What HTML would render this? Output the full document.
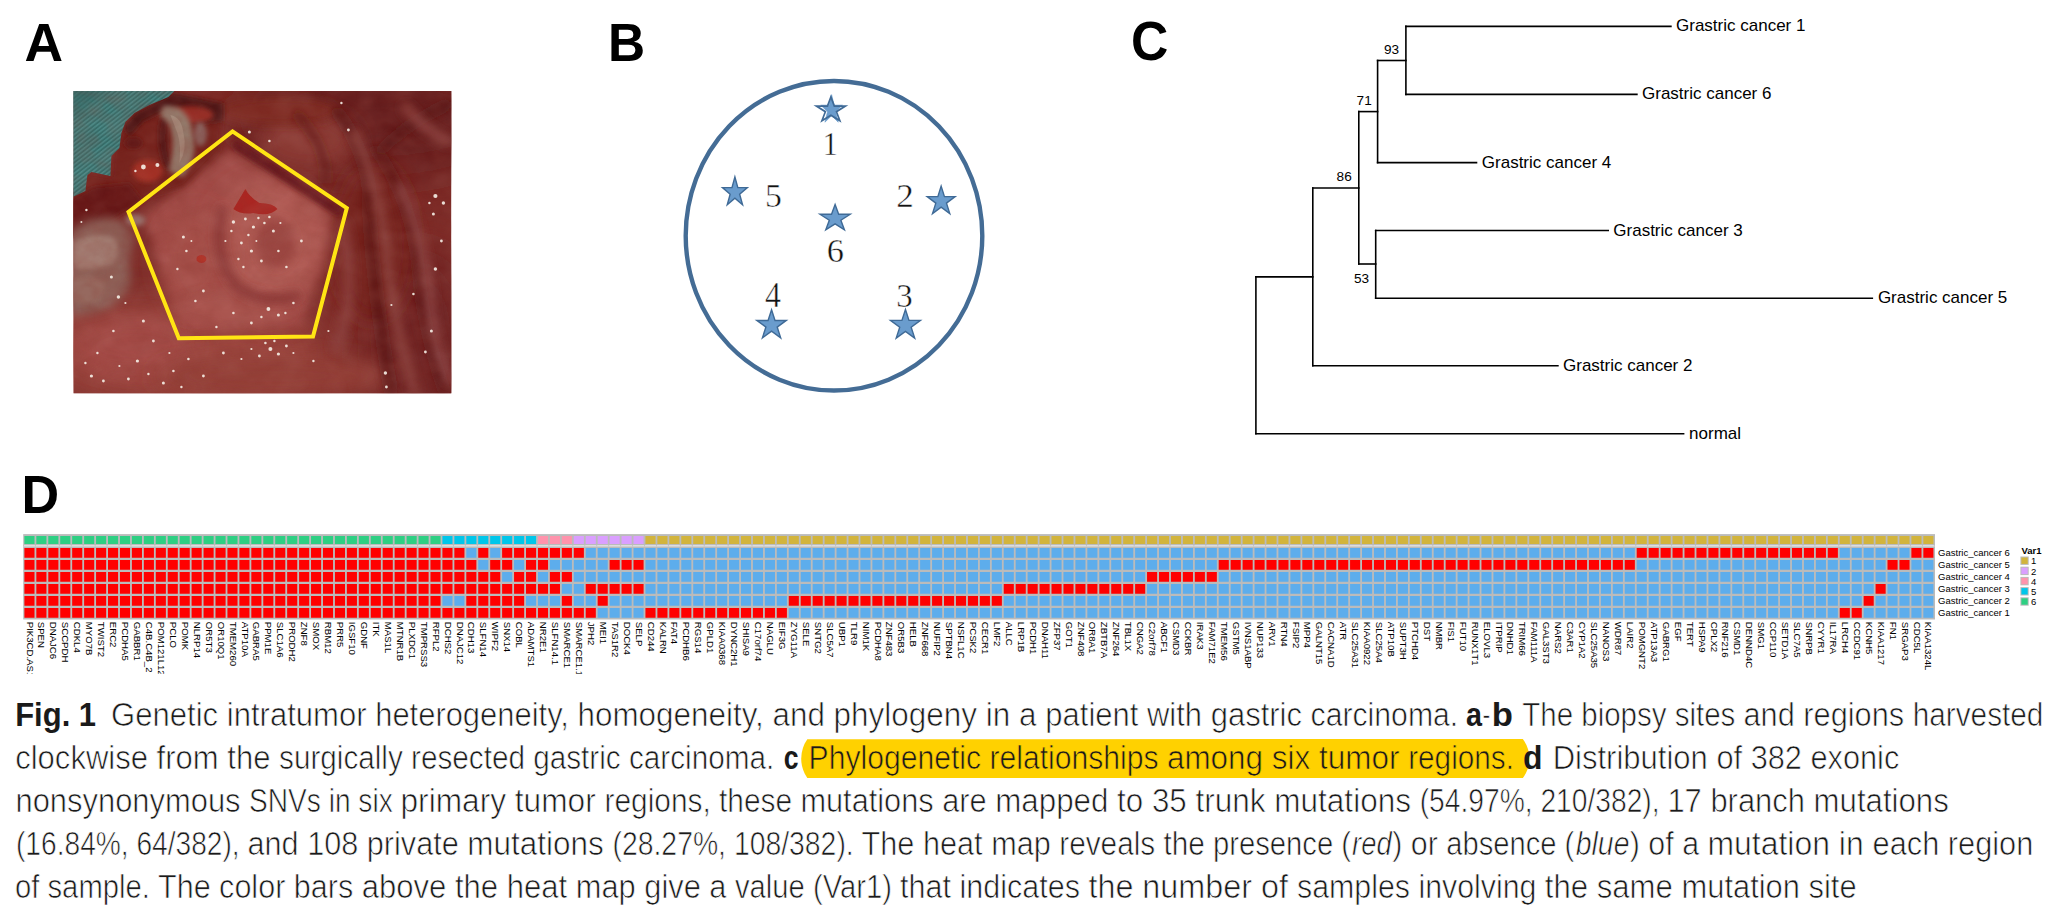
<!DOCTYPE html>
<html><head><meta charset="utf-8"><title>Fig. 1</title>
<style>html,body{margin:0;padding:0;background:#fff}body{width:2058px;height:914px;overflow:hidden}svg{display:block}text{font-family:"Liberation Sans", sans-serif}</style>
</head><body>
<svg width="2058" height="914" viewBox="0 0 2058 914">
<rect width="2058" height="914" fill="#fff"/>
<text x="24.54" y="60.90" font-size="54.51" font-weight="700" textLength="38.56" lengthAdjust="spacingAndGlyphs" fill="#000" style="font-family:'Liberation Sans', sans-serif">A</text>
<text x="607.98" y="60.90" font-size="54.51" font-weight="700" textLength="37.14" lengthAdjust="spacingAndGlyphs" fill="#000" style="font-family:'Liberation Sans', sans-serif">B</text>
<text x="1131.08" y="60.14" font-size="56.21" font-weight="700" textLength="37.32" lengthAdjust="spacingAndGlyphs" fill="#000" style="font-family:'Liberation Sans', sans-serif">C</text>
<text x="21.43" y="512.70" font-size="54.36" font-weight="700" textLength="37.64" lengthAdjust="spacingAndGlyphs" fill="#000" style="font-family:'Liberation Sans', sans-serif">D</text>
<defs>
<clipPath id="pc"><rect x="0" y="0" width="378" height="302.3"/></clipPath>
<filter id="b30" filterUnits="userSpaceOnUse" x="-60" y="-60" width="500" height="430"><feGaussianBlur stdDeviation="20"/></filter>
<filter id="b14" filterUnits="userSpaceOnUse" x="-60" y="-60" width="500" height="430"><feGaussianBlur stdDeviation="10"/></filter>
<filter id="b7" filterUnits="userSpaceOnUse" x="-60" y="-60" width="500" height="430"><feGaussianBlur stdDeviation="5"/></filter>
<filter id="b3" filterUnits="userSpaceOnUse" x="-60" y="-60" width="500" height="430"><feGaussianBlur stdDeviation="2.4"/></filter>
<filter id="b1" filterUnits="userSpaceOnUse" x="-60" y="-60" width="500" height="430"><feGaussianBlur stdDeviation="0.7"/></filter>
<filter id="tx" x="0" y="0" width="100%" height="100%">
<feTurbulence type="fractalNoise" baseFrequency="0.05 0.07" numOctaves="3" seed="7" result="n"/>
<feColorMatrix in="n" type="matrix" values="0 0 0 0 0.25  0 0 0 0 0.04  0 0 0 0 0.03  0.75 0.3 0 0 -0.36"/>
</filter>
<filter id="tx2" x="0" y="0" width="100%" height="100%">
<feTurbulence type="fractalNoise" baseFrequency="0.035 0.05" numOctaves="2" seed="23" result="n"/>
<feColorMatrix in="n" type="matrix" values="0 0 0 0 0.78  0 0 0 0 0.5  0 0 0 0 0.46  0 0.7 0.25 0 -0.36"/>
</filter>
<pattern id="tw" width="3.4" height="3.4" patternUnits="userSpaceOnUse" patternTransform="rotate(-38)">
<rect width="3.4" height="3.4" fill="#366E6B"/><rect width="3.4" height="1.5" fill="#4A8986"/>
</pattern>
</defs>
<g transform="translate(73.4 91)" clip-path="url(#pc)">
<rect width="378" height="303" fill="#7C2B27"/>
<!-- broad tonal areas -->
<ellipse cx="300" cy="30" rx="140" ry="55" fill="#651F1C" filter="url(#b30)"/>
<ellipse cx="345" cy="250" rx="55" ry="90" fill="#6E2320" filter="url(#b30)"/>
<ellipse cx="300" cy="150" rx="40" ry="80" fill="#74231F" filter="url(#b14)"/>
<ellipse cx="235" cy="50" rx="50" ry="30" fill="#8C3A35" filter="url(#b14)"/>
<ellipse cx="205" cy="20" rx="60" ry="14" fill="#7E2A20" filter="url(#b7)"/>
<ellipse cx="105" cy="262" rx="150" ry="52" fill="#9E4641" filter="url(#b30)"/>
<ellipse cx="60" cy="255" rx="60" ry="30" fill="#A44C46" filter="url(#b14)"/>
<ellipse cx="200" cy="285" rx="120" ry="22" fill="#944039" filter="url(#b14)"/>
<!-- folds on the right -->
<path d="M262 18 Q300 70 296 120 Q300 200 318 303" fill="none" stroke="#561614" stroke-width="8" filter="url(#b7)"/>
<path d="M300 55 Q340 110 345 180 Q350 240 372 303" fill="none" stroke="#5A1815" stroke-width="7" filter="url(#b7)"/>
<path d="M222 22 Q255 55 252 92" fill="none" stroke="#5E1A17" stroke-width="6" filter="url(#b7)"/>
<path d="M305 62 Q335 30 378 12" fill="none" stroke="#561513" stroke-width="7" filter="url(#b7)"/>
<path d="M280 40 Q306 95 313 160 Q319 230 342 303" fill="none" stroke="#8E4541" stroke-width="9" filter="url(#b7)"/>
<path d="M325 92 Q353 150 357 215 Q361 260 378 292" fill="none" stroke="#90484A" stroke-width="8" filter="url(#b7)"/>
<path d="M330 14 Q350 40 378 52" fill="none" stroke="#8A403C" stroke-width="10" filter="url(#b7)"/>
<path d="M268 130 Q285 200 262 260" fill="none" stroke="#8A3E3A" stroke-width="12" filter="url(#b7)"/>
<!-- tumour (mound) -->
<path d="M158 58 L258 124 L228 236 L114 238 L70 126Z" fill="#A24C47" filter="url(#b7)"/>
<ellipse cx="195" cy="150" rx="58" ry="62" fill="#B15B55" filter="url(#b14)"/>
<ellipse cx="120" cy="170" rx="34" ry="52" fill="#A64F4A" filter="url(#b14)"/>
<ellipse cx="160" cy="218" rx="60" ry="18" fill="#A9524D" filter="url(#b7)"/>
<path d="M160 52 L268 122" fill="none" stroke="#65191A" stroke-width="9" filter="url(#b3)"/>
<path d="M150 115 Q138 160 160 192 Q186 216 226 204" fill="none" stroke="#873634" stroke-width="8" filter="url(#b7)"/>
<ellipse cx="202" cy="152" rx="20" ry="24" fill="#9C4643" filter="url(#b7)"/>
<path d="M172 98 Q176 106 186 112 Q200 112 204 118 Q196 126 180 122 Q168 124 160 118 Q166 108 172 98Z" fill="#AC2620" filter="url(#b1)"/>
<ellipse cx="128" cy="168" rx="5" ry="4" fill="#B03028" filter="url(#b1)"/>
<!-- upper-left raw red tissue -->
<path d="M62 22 L100 4 L150 14 L146 60 L110 96 L60 110 L30 120 L-5 150 L-5 104 L14 82 L38 86 L40 62 L50 36Z" fill="#74201A" filter="url(#b3)"/>
<path d="M100 2 L150 12 L150 30 L122 34 L90 20 L70 30 L56 46 L50 36 L62 22Z" fill="#4E1412" filter="url(#b3)"/>
<path d="M88 24 Q80 50 92 78 L100 80 Q90 52 96 28Z" fill="#551513" filter="url(#b3)"/>
<path d="M-5 110 L20 96 L56 92 L70 110 L40 128 L-5 150Z" fill="#651612" filter="url(#b3)"/>
<ellipse cx="74" cy="80" rx="15" ry="11" fill="#A62E22" filter="url(#b3)"/>
<ellipse cx="60" cy="52" rx="9" ry="6" fill="#5E1712" filter="url(#b3)"/>
<ellipse cx="118" cy="24" rx="22" ry="9" fill="#962C22" filter="url(#b3)"/>
<!-- fat / pale tissue -->
<path d="M90 15 Q114 12 119 40 Q125 64 110 86 L95 80 Q102 56 98 40 Q94 28 86 25Z" fill="#93796A" filter="url(#b3)"/>
<path d="M97 24 Q108 26 110 42 Q114 58 106 72 Q108 54 104 42Z" fill="#A58C7C" filter="url(#b1)"/>
<ellipse cx="127" cy="43" rx="6.5" ry="12" fill="#8A635E" filter="url(#b3)"/>
<path d="M-5 142 Q14 124 40 127 Q58 134 60 151 Q52 170 58 190 Q50 212 30 219 Q10 226 -5 223Z" fill="#8C5F57" filter="url(#b7)"/>
<path d="M0 152 Q20 139 42 147 Q48 160 40 172 Q20 181 0 177Z" fill="#A17A70" filter="url(#b3)"/>
<path d="M-2 187 Q14 181 30 190 Q34 204 22 211 Q8 215 -2 209Z" fill="#96695F" filter="url(#b3)"/>
<ellipse cx="62" cy="129" rx="10" ry="6" fill="#94706A" filter="url(#b3)"/>
<!-- teal cloth -->
<path d="M-5 -5 L106 -5 L95 6 L76 14 L61 22 L52 31 L48 42 L46 57 L38 65 L37 85 L18 81 L14 84 L12 100 L-5 108 Z" fill="url(#tw)" filter="url(#b1)"/>
<path d="M-5 -5 L40 -5 L-5 30Z" fill="#2F6663" opacity="0.6" filter="url(#b7)"/>
<!-- mottled texture -->
<rect width="378" height="303" filter="url(#tx)" opacity="0.55"/>
<rect width="378" height="303" filter="url(#tx2)" opacity="0.18"/>
<!-- specular glints -->
<g fill="#F6F1E8" filter="url(#b1)" opacity="0.9">
<circle cx="70" cy="76" r="2.4"/><circle cx="84" cy="74" r="2.0"/><circle cx="62" cy="80" r="1.2"/><circle cx="13" cy="119" r="1.2"/><circle cx="8" cy="131" r="1.0"/>
<circle cx="110" cy="146" r="1.5"/><circle cx="113" cy="160" r="1.3"/><circle cx="104" cy="178" r="1.2"/><circle cx="118" cy="150" r="1.0"/>
<circle cx="160" cy="131" r="1.7"/><circle cx="172" cy="128" r="1.4"/><circle cx="180" cy="136" r="1.6"/><circle cx="191" cy="132" r="1.3"/><circle cx="185" cy="127" r="1.2"/>
<circle cx="200" cy="140" r="1.5"/><circle cx="168" cy="152" r="1.4"/><circle cx="178" cy="160" r="1.6"/><circle cx="165" cy="168" r="1.2"/><circle cx="196" cy="126" r="1.3"/>
<circle cx="188" cy="170" r="1.4"/><circle cx="205" cy="160" r="1.3"/><circle cx="213" cy="176" r="1.3"/><circle cx="228" cy="150" r="1.4"/><circle cx="175" cy="144" r="1.2"/>
<circle cx="158" cy="140" r="1.2"/><circle cx="152" cy="150" r="1.1"/><circle cx="170" cy="176" r="1.2"/><circle cx="183" cy="150" r="1.0"/><circle cx="207" cy="132" r="1.1"/>
<circle cx="195" cy="218" r="1.9"/><circle cx="205" cy="224" r="1.5"/><circle cx="220" cy="212" r="1.3"/><circle cx="178" cy="232" r="1.4"/><circle cx="188" cy="226" r="1.2"/>
<circle cx="160" cy="222" r="1.3"/><circle cx="130" cy="200" r="1.4"/><circle cx="122" cy="210" r="1.3"/><circle cx="143" cy="236" r="1.2"/><circle cx="212" cy="222" r="1.2"/>
<circle cx="197" cy="258" r="2.0"/><circle cx="205" cy="263" r="1.6"/><circle cx="186" cy="265" r="1.4"/><circle cx="213" cy="255" r="1.4"/><circle cx="150" cy="262" r="1.4"/>
<circle cx="192" cy="252" r="1.3"/><circle cx="201" cy="250" r="1.2"/><circle cx="178" cy="258" r="1.1"/><circle cx="220" cy="262" r="1.1"/><circle cx="168" cy="268" r="1.1"/>
<circle cx="45" cy="206" r="1.7"/><circle cx="38" cy="186" r="1.5"/><circle cx="70" cy="230" r="1.5"/><circle cx="64" cy="270" r="1.6"/><circle cx="52" cy="212" r="1.1"/>
<circle cx="18" cy="285" r="1.6"/><circle cx="30" cy="290" r="1.4"/><circle cx="55" cy="288" r="1.4"/><circle cx="90" cy="292" r="1.5"/><circle cx="100" cy="280" r="1.3"/>
<circle cx="115" cy="268" r="1.3"/><circle cx="80" cy="250" r="1.4"/><circle cx="40" cy="240" r="1.3"/><circle cx="130" cy="285" r="1.4"/><circle cx="24" cy="262" r="1.2"/>
<circle cx="12" cy="272" r="1.2"/><circle cx="46" cy="275" r="1.1"/><circle cx="75" cy="283" r="1.2"/><circle cx="108" cy="296" r="1.2"/><circle cx="96" cy="262" r="1.1"/>
<circle cx="362" cy="105" r="2.1"/><circle cx="370" cy="112" r="1.7"/><circle cx="360" cy="123" r="1.5"/><circle cx="368" cy="150" r="1.4"/><circle cx="356" cy="112" r="1.2"/>
<circle cx="176" cy="41" r="1.5"/><circle cx="275" cy="39" r="1.4"/><circle cx="196" cy="50" r="1.3"/><circle cx="268" cy="12" r="1.2"/>
<circle cx="362" cy="178" r="1.7"/><circle cx="358" cy="240" r="1.5"/><circle cx="340" cy="203" r="1.3"/><circle cx="312" cy="282" r="1.7"/><circle cx="313" cy="296" r="1.4"/>
<circle cx="352" cy="261" r="1.4"/><circle cx="318" cy="214" r="1.1"/><circle cx="240" cy="270" r="1.2"/><circle cx="255" cy="240" r="1.1"/>
</g>
<!-- pentagon -->
<polygon points="159.1,40.4 273.4,117.1 239.6,245.6 105.4,247.2 55.1,121.0" fill="none" stroke="#FFE514" stroke-width="4.0" stroke-linejoin="miter"/>
</g>

<g id="panelB">
<ellipse cx="834.0" cy="235.75" rx="148.3" ry="154.8" fill="none" stroke="#446C95" stroke-width="4.4"/>
<polygon points="831.60,94.60 834.15,105.14 842.40,105.14 835.73,111.66 838.28,122.20 831.60,115.69 824.92,122.20 827.47,111.66 820.80,105.14 829.05,105.14" fill="#6A9CCD" stroke="#6A9CCD" stroke-width="0.6" stroke-linejoin="miter"/>
<polygon points="830.90,97.00 834.32,106.09 845.40,106.09 836.44,111.71 839.86,120.80 830.90,115.18 821.94,120.80 825.36,111.71 816.40,106.09 827.48,106.09" fill="none" stroke="#3F6A96" stroke-width="1.7" stroke-linejoin="miter"/>
<polygon points="734.90,177.00 737.83,187.62 747.30,187.62 739.64,194.18 742.56,204.80 734.90,198.24 727.24,204.80 730.16,194.18 722.50,187.62 731.97,187.62" fill="#6A9CCD" stroke="#3F6A96" stroke-width="1.4" stroke-linejoin="miter"/>
<polygon points="941.15,186.10 944.44,196.60 955.10,196.60 946.48,203.10 949.77,213.60 941.15,207.11 932.53,213.60 935.82,203.10 927.20,196.60 937.86,196.60" fill="#6A9CCD" stroke="#3F6A96" stroke-width="1.4" stroke-linejoin="miter"/>
<polygon points="835.10,204.60 838.67,214.26 850.20,214.26 840.87,220.24 844.43,229.90 835.10,223.93 825.77,229.90 829.33,220.24 820.00,214.26 831.53,214.26" fill="#6A9CCD" stroke="#3F6A96" stroke-width="1.4" stroke-linejoin="miter"/>
<polygon points="771.55,309.70 775.03,320.43 786.30,320.43 777.18,327.07 780.67,337.80 771.55,331.17 762.43,337.80 765.92,327.07 756.80,320.43 768.07,320.43" fill="#6A9CCD" stroke="#3F6A96" stroke-width="1.4" stroke-linejoin="miter"/>
<polygon points="905.45,309.50 908.98,320.42 920.40,320.42 911.16,327.18 914.69,338.10 905.45,331.35 896.21,338.10 899.74,327.18 890.50,320.42 901.92,320.42" fill="#6A9CCD" stroke="#3F6A96" stroke-width="1.4" stroke-linejoin="miter"/>
<text x="822.67" y="155.00" font-size="34.24" font-weight="400" textLength="15.04" lengthAdjust="spacingAndGlyphs" fill="#111" stroke="#fff" stroke-width="0.45" style="font-family:'Liberation Serif', serif">1</text>
<text x="764.94" y="206.96" font-size="33.53" font-weight="400" textLength="16.87" lengthAdjust="spacingAndGlyphs" fill="#111" stroke="#fff" stroke-width="0.45" style="font-family:'Liberation Serif', serif">5</text>
<text x="896.17" y="207.10" font-size="33.99" font-weight="400" textLength="17.56" lengthAdjust="spacingAndGlyphs" fill="#111" stroke="#fff" stroke-width="0.45" style="font-family:'Liberation Serif', serif">2</text>
<text x="826.64" y="261.65" font-size="34.67" font-weight="400" textLength="17.17" lengthAdjust="spacingAndGlyphs" fill="#111" stroke="#fff" stroke-width="0.45" style="font-family:'Liberation Serif', serif">6</text>
<text x="764.88" y="307.10" font-size="34.95" font-weight="400" textLength="15.91" lengthAdjust="spacingAndGlyphs" fill="#111" stroke="#fff" stroke-width="0.45" style="font-family:'Liberation Serif', serif">4</text>
<text x="896.34" y="306.66" font-size="34.08" font-weight="400" textLength="16.44" lengthAdjust="spacingAndGlyphs" fill="#111" stroke="#fff" stroke-width="0.45" style="font-family:'Liberation Serif', serif">3</text>
</g>
<g id="panelC" fill="none" stroke="#000" stroke-width="1.6" stroke-linecap="square">
<line x1="1255.9" y1="276.9" x2="1255.9" y2="433.7"/>
<line x1="1255.9" y1="433.7" x2="1683.6" y2="433.7"/>
<line x1="1255.9" y1="276.9" x2="1312.8" y2="276.9"/>
<line x1="1312.8" y1="188.0" x2="1312.8" y2="365.7"/>
<line x1="1312.8" y1="365.7" x2="1557.9" y2="365.7"/>
<line x1="1312.8" y1="188.0" x2="1358.8" y2="188.0"/>
<line x1="1358.8" y1="111.6" x2="1358.8" y2="264.0"/>
<line x1="1358.8" y1="264.0" x2="1375.7" y2="264.0"/>
<line x1="1375.7" y1="230.5" x2="1375.7" y2="298.2"/>
<line x1="1375.7" y1="230.5" x2="1608.2" y2="230.5"/>
<line x1="1375.7" y1="298.2" x2="1872.3" y2="298.2"/>
<line x1="1358.8" y1="111.6" x2="1377.6" y2="111.6"/>
<line x1="1377.6" y1="60.5" x2="1377.6" y2="162.6"/>
<line x1="1377.6" y1="162.6" x2="1476.5" y2="162.6"/>
<line x1="1377.6" y1="60.5" x2="1405.9" y2="60.5"/>
<line x1="1405.9" y1="26.4" x2="1405.9" y2="94.4"/>
<line x1="1405.9" y1="26.4" x2="1670.9" y2="26.4"/>
<line x1="1405.9" y1="94.4" x2="1636.9" y2="94.4"/>
</g>
<g font-size="17.0" fill="#000">
<text x="1676.0" y="31.4">Grastric cancer 1</text>
<text x="1642.0" y="99.4">Grastric cancer 6</text>
<text x="1481.8" y="167.5">Grastric cancer 4</text>
<text x="1613.3" y="235.5">Grastric cancer 3</text>
<text x="1877.9" y="303.2">Grastric cancer 5</text>
<text x="1563.0" y="370.7">Grastric cancer 2</text>
<text x="1689.1" y="438.7">normal</text>
</g>
<g font-size="13.6" fill="#000">
<text x="1384.0" y="53.6">93</text>
<text x="1356.6" y="104.6">71</text>
<text x="1336.6" y="181.0">86</text>
<text x="1353.9" y="283.3">53</text>
</g>
<g id="heat">
<rect x="23.2" y="534.1" width="1911.8" height="10.9" fill="#BBBBBB"/>
<rect x="23.2" y="545.0" width="1911.8" height="1.5" fill="#DDDDDD"/>
<rect x="23.2" y="546.4" width="1911.8" height="73.1" fill="#BBBBBB"/>
<path d="M23.03 545.0h0.9v1.5h-0.9zM34.97 545.0h0.9v1.5h-0.9zM46.92 545.0h0.9v1.5h-0.9zM58.86 545.0h0.9v1.5h-0.9zM70.80 545.0h0.9v1.5h-0.9zM82.74 545.0h0.9v1.5h-0.9zM94.69 545.0h0.9v1.5h-0.9zM106.63 545.0h0.9v1.5h-0.9zM118.57 545.0h0.9v1.5h-0.9zM130.52 545.0h0.9v1.5h-0.9zM142.46 545.0h0.9v1.5h-0.9zM154.40 545.0h0.9v1.5h-0.9zM166.35 545.0h0.9v1.5h-0.9zM178.29 545.0h0.9v1.5h-0.9zM190.23 545.0h0.9v1.5h-0.9zM202.17 545.0h0.9v1.5h-0.9zM214.12 545.0h0.9v1.5h-0.9zM226.06 545.0h0.9v1.5h-0.9zM238.00 545.0h0.9v1.5h-0.9zM249.95 545.0h0.9v1.5h-0.9zM261.89 545.0h0.9v1.5h-0.9zM273.83 545.0h0.9v1.5h-0.9zM285.78 545.0h0.9v1.5h-0.9zM297.72 545.0h0.9v1.5h-0.9zM309.66 545.0h0.9v1.5h-0.9zM321.60 545.0h0.9v1.5h-0.9zM333.55 545.0h0.9v1.5h-0.9zM345.49 545.0h0.9v1.5h-0.9zM357.43 545.0h0.9v1.5h-0.9zM369.38 545.0h0.9v1.5h-0.9zM381.32 545.0h0.9v1.5h-0.9zM393.26 545.0h0.9v1.5h-0.9zM405.21 545.0h0.9v1.5h-0.9zM417.15 545.0h0.9v1.5h-0.9zM429.09 545.0h0.9v1.5h-0.9zM441.03 545.0h0.9v1.5h-0.9zM452.98 545.0h0.9v1.5h-0.9zM464.92 545.0h0.9v1.5h-0.9zM476.86 545.0h0.9v1.5h-0.9zM488.81 545.0h0.9v1.5h-0.9zM500.75 545.0h0.9v1.5h-0.9zM512.69 545.0h0.9v1.5h-0.9zM524.64 545.0h0.9v1.5h-0.9zM536.58 545.0h0.9v1.5h-0.9zM548.52 545.0h0.9v1.5h-0.9zM560.46 545.0h0.9v1.5h-0.9zM572.41 545.0h0.9v1.5h-0.9zM584.35 545.0h0.9v1.5h-0.9zM596.29 545.0h0.9v1.5h-0.9zM608.24 545.0h0.9v1.5h-0.9zM620.18 545.0h0.9v1.5h-0.9zM632.12 545.0h0.9v1.5h-0.9zM644.07 545.0h0.9v1.5h-0.9zM656.01 545.0h0.9v1.5h-0.9zM667.95 545.0h0.9v1.5h-0.9zM679.89 545.0h0.9v1.5h-0.9zM691.84 545.0h0.9v1.5h-0.9zM703.78 545.0h0.9v1.5h-0.9zM715.72 545.0h0.9v1.5h-0.9zM727.67 545.0h0.9v1.5h-0.9zM739.61 545.0h0.9v1.5h-0.9zM751.55 545.0h0.9v1.5h-0.9zM763.50 545.0h0.9v1.5h-0.9zM775.44 545.0h0.9v1.5h-0.9zM787.38 545.0h0.9v1.5h-0.9zM799.32 545.0h0.9v1.5h-0.9zM811.27 545.0h0.9v1.5h-0.9zM823.21 545.0h0.9v1.5h-0.9zM835.15 545.0h0.9v1.5h-0.9zM847.10 545.0h0.9v1.5h-0.9zM859.04 545.0h0.9v1.5h-0.9zM870.98 545.0h0.9v1.5h-0.9zM882.93 545.0h0.9v1.5h-0.9zM894.87 545.0h0.9v1.5h-0.9zM906.81 545.0h0.9v1.5h-0.9zM918.75 545.0h0.9v1.5h-0.9zM930.70 545.0h0.9v1.5h-0.9zM942.64 545.0h0.9v1.5h-0.9zM954.58 545.0h0.9v1.5h-0.9zM966.53 545.0h0.9v1.5h-0.9zM978.47 545.0h0.9v1.5h-0.9zM990.41 545.0h0.9v1.5h-0.9zM1002.36 545.0h0.9v1.5h-0.9zM1014.30 545.0h0.9v1.5h-0.9zM1026.24 545.0h0.9v1.5h-0.9zM1038.19 545.0h0.9v1.5h-0.9zM1050.13 545.0h0.9v1.5h-0.9zM1062.07 545.0h0.9v1.5h-0.9zM1074.01 545.0h0.9v1.5h-0.9zM1085.96 545.0h0.9v1.5h-0.9zM1097.90 545.0h0.9v1.5h-0.9zM1109.84 545.0h0.9v1.5h-0.9zM1121.79 545.0h0.9v1.5h-0.9zM1133.73 545.0h0.9v1.5h-0.9zM1145.67 545.0h0.9v1.5h-0.9zM1157.62 545.0h0.9v1.5h-0.9zM1169.56 545.0h0.9v1.5h-0.9zM1181.50 545.0h0.9v1.5h-0.9zM1193.44 545.0h0.9v1.5h-0.9zM1205.39 545.0h0.9v1.5h-0.9zM1217.33 545.0h0.9v1.5h-0.9zM1229.27 545.0h0.9v1.5h-0.9zM1241.22 545.0h0.9v1.5h-0.9zM1253.16 545.0h0.9v1.5h-0.9zM1265.10 545.0h0.9v1.5h-0.9zM1277.05 545.0h0.9v1.5h-0.9zM1288.99 545.0h0.9v1.5h-0.9zM1300.93 545.0h0.9v1.5h-0.9zM1312.87 545.0h0.9v1.5h-0.9zM1324.82 545.0h0.9v1.5h-0.9zM1336.76 545.0h0.9v1.5h-0.9zM1348.70 545.0h0.9v1.5h-0.9zM1360.65 545.0h0.9v1.5h-0.9zM1372.59 545.0h0.9v1.5h-0.9zM1384.53 545.0h0.9v1.5h-0.9zM1396.48 545.0h0.9v1.5h-0.9zM1408.42 545.0h0.9v1.5h-0.9zM1420.36 545.0h0.9v1.5h-0.9zM1432.30 545.0h0.9v1.5h-0.9zM1444.25 545.0h0.9v1.5h-0.9zM1456.19 545.0h0.9v1.5h-0.9zM1468.13 545.0h0.9v1.5h-0.9zM1480.08 545.0h0.9v1.5h-0.9zM1492.02 545.0h0.9v1.5h-0.9zM1503.96 545.0h0.9v1.5h-0.9zM1515.91 545.0h0.9v1.5h-0.9zM1527.85 545.0h0.9v1.5h-0.9zM1539.79 545.0h0.9v1.5h-0.9zM1551.73 545.0h0.9v1.5h-0.9zM1563.68 545.0h0.9v1.5h-0.9zM1575.62 545.0h0.9v1.5h-0.9zM1587.56 545.0h0.9v1.5h-0.9zM1599.51 545.0h0.9v1.5h-0.9zM1611.45 545.0h0.9v1.5h-0.9zM1623.39 545.0h0.9v1.5h-0.9zM1635.34 545.0h0.9v1.5h-0.9zM1647.28 545.0h0.9v1.5h-0.9zM1659.22 545.0h0.9v1.5h-0.9zM1671.16 545.0h0.9v1.5h-0.9zM1683.11 545.0h0.9v1.5h-0.9zM1695.05 545.0h0.9v1.5h-0.9zM1706.99 545.0h0.9v1.5h-0.9zM1718.94 545.0h0.9v1.5h-0.9zM1730.88 545.0h0.9v1.5h-0.9zM1742.82 545.0h0.9v1.5h-0.9zM1754.77 545.0h0.9v1.5h-0.9zM1766.71 545.0h0.9v1.5h-0.9zM1778.65 545.0h0.9v1.5h-0.9zM1790.59 545.0h0.9v1.5h-0.9zM1802.54 545.0h0.9v1.5h-0.9zM1814.48 545.0h0.9v1.5h-0.9zM1826.42 545.0h0.9v1.5h-0.9zM1838.37 545.0h0.9v1.5h-0.9zM1850.31 545.0h0.9v1.5h-0.9zM1862.25 545.0h0.9v1.5h-0.9zM1874.20 545.0h0.9v1.5h-0.9zM1886.14 545.0h0.9v1.5h-0.9zM1898.08 545.0h0.9v1.5h-0.9zM1910.02 545.0h0.9v1.5h-0.9zM1921.97 545.0h0.9v1.5h-0.9zM1933.91 545.0h0.9v1.5h-0.9z" fill="#C2C2C2"/>
<path d="M24.40 536.00h10.10v8.00h-10.10zM36.34 536.00h10.10v8.00h-10.10zM48.29 536.00h10.10v8.00h-10.10zM60.23 536.00h10.10v8.00h-10.10zM72.17 536.00h10.10v8.00h-10.10zM84.11 536.00h10.10v8.00h-10.10zM96.06 536.00h10.10v8.00h-10.10zM108.00 536.00h10.10v8.00h-10.10zM119.94 536.00h10.10v8.00h-10.10zM131.89 536.00h10.10v8.00h-10.10zM143.83 536.00h10.10v8.00h-10.10zM155.77 536.00h10.10v8.00h-10.10zM167.72 536.00h10.10v8.00h-10.10zM179.66 536.00h10.10v8.00h-10.10zM191.60 536.00h10.10v8.00h-10.10zM203.54 536.00h10.10v8.00h-10.10zM215.49 536.00h10.10v8.00h-10.10zM227.43 536.00h10.10v8.00h-10.10zM239.37 536.00h10.10v8.00h-10.10zM251.32 536.00h10.10v8.00h-10.10zM263.26 536.00h10.10v8.00h-10.10zM275.20 536.00h10.10v8.00h-10.10zM287.15 536.00h10.10v8.00h-10.10zM299.09 536.00h10.10v8.00h-10.10zM311.03 536.00h10.10v8.00h-10.10zM322.97 536.00h10.10v8.00h-10.10zM334.92 536.00h10.10v8.00h-10.10zM346.86 536.00h10.10v8.00h-10.10zM358.80 536.00h10.10v8.00h-10.10zM370.75 536.00h10.10v8.00h-10.10zM382.69 536.00h10.10v8.00h-10.10zM394.63 536.00h10.10v8.00h-10.10zM406.58 536.00h10.10v8.00h-10.10zM418.52 536.00h10.10v8.00h-10.10zM430.46 536.00h10.10v8.00h-10.10z" fill="#2ECF83"/>
<path d="M442.40 536.00h10.10v8.00h-10.10zM454.35 536.00h10.10v8.00h-10.10zM466.29 536.00h10.10v8.00h-10.10zM478.23 536.00h10.10v8.00h-10.10zM490.18 536.00h10.10v8.00h-10.10zM502.12 536.00h10.10v8.00h-10.10zM514.06 536.00h10.10v8.00h-10.10zM526.01 536.00h10.10v8.00h-10.10z" fill="#00C6EA"/>
<path d="M537.95 536.00h10.10v8.00h-10.10zM549.89 536.00h10.10v8.00h-10.10zM561.83 536.00h10.10v8.00h-10.10z" fill="#FF93AC"/>
<path d="M573.78 536.00h10.10v8.00h-10.10zM585.72 536.00h10.10v8.00h-10.10zM597.66 536.00h10.10v8.00h-10.10zM609.61 536.00h10.10v8.00h-10.10zM621.55 536.00h10.10v8.00h-10.10zM633.49 536.00h10.10v8.00h-10.10z" fill="#DA9FFF"/>
<path d="M645.44 536.00h10.10v8.00h-10.10zM657.38 536.00h10.10v8.00h-10.10zM669.32 536.00h10.10v8.00h-10.10zM681.26 536.00h10.10v8.00h-10.10zM693.21 536.00h10.10v8.00h-10.10zM705.15 536.00h10.10v8.00h-10.10zM717.09 536.00h10.10v8.00h-10.10zM729.04 536.00h10.10v8.00h-10.10zM740.98 536.00h10.10v8.00h-10.10zM752.92 536.00h10.10v8.00h-10.10zM764.87 536.00h10.10v8.00h-10.10zM776.81 536.00h10.10v8.00h-10.10zM788.75 536.00h10.10v8.00h-10.10zM800.69 536.00h10.10v8.00h-10.10zM812.64 536.00h10.10v8.00h-10.10zM824.58 536.00h10.10v8.00h-10.10zM836.52 536.00h10.10v8.00h-10.10zM848.47 536.00h10.10v8.00h-10.10zM860.41 536.00h10.10v8.00h-10.10zM872.35 536.00h10.10v8.00h-10.10zM884.30 536.00h10.10v8.00h-10.10zM896.24 536.00h10.10v8.00h-10.10zM908.18 536.00h10.10v8.00h-10.10zM920.12 536.00h10.10v8.00h-10.10zM932.07 536.00h10.10v8.00h-10.10zM944.01 536.00h10.10v8.00h-10.10zM955.95 536.00h10.10v8.00h-10.10zM967.90 536.00h10.10v8.00h-10.10zM979.84 536.00h10.10v8.00h-10.10zM991.78 536.00h10.10v8.00h-10.10zM1003.73 536.00h10.10v8.00h-10.10zM1015.67 536.00h10.10v8.00h-10.10zM1027.61 536.00h10.10v8.00h-10.10zM1039.56 536.00h10.10v8.00h-10.10zM1051.50 536.00h10.10v8.00h-10.10zM1063.44 536.00h10.10v8.00h-10.10zM1075.38 536.00h10.10v8.00h-10.10zM1087.33 536.00h10.10v8.00h-10.10zM1099.27 536.00h10.10v8.00h-10.10zM1111.21 536.00h10.10v8.00h-10.10zM1123.16 536.00h10.10v8.00h-10.10zM1135.10 536.00h10.10v8.00h-10.10zM1147.04 536.00h10.10v8.00h-10.10zM1158.99 536.00h10.10v8.00h-10.10zM1170.93 536.00h10.10v8.00h-10.10zM1182.87 536.00h10.10v8.00h-10.10zM1194.81 536.00h10.10v8.00h-10.10zM1206.76 536.00h10.10v8.00h-10.10zM1218.70 536.00h10.10v8.00h-10.10zM1230.64 536.00h10.10v8.00h-10.10zM1242.59 536.00h10.10v8.00h-10.10zM1254.53 536.00h10.10v8.00h-10.10zM1266.47 536.00h10.10v8.00h-10.10zM1278.41 536.00h10.10v8.00h-10.10zM1290.36 536.00h10.10v8.00h-10.10zM1302.30 536.00h10.10v8.00h-10.10zM1314.24 536.00h10.10v8.00h-10.10zM1326.19 536.00h10.10v8.00h-10.10zM1338.13 536.00h10.10v8.00h-10.10zM1350.07 536.00h10.10v8.00h-10.10zM1362.02 536.00h10.10v8.00h-10.10zM1373.96 536.00h10.10v8.00h-10.10zM1385.90 536.00h10.10v8.00h-10.10zM1397.85 536.00h10.10v8.00h-10.10zM1409.79 536.00h10.10v8.00h-10.10zM1421.73 536.00h10.10v8.00h-10.10zM1433.67 536.00h10.10v8.00h-10.10zM1445.62 536.00h10.10v8.00h-10.10zM1457.56 536.00h10.10v8.00h-10.10zM1469.50 536.00h10.10v8.00h-10.10zM1481.45 536.00h10.10v8.00h-10.10zM1493.39 536.00h10.10v8.00h-10.10zM1505.33 536.00h10.10v8.00h-10.10zM1517.28 536.00h10.10v8.00h-10.10zM1529.22 536.00h10.10v8.00h-10.10zM1541.16 536.00h10.10v8.00h-10.10zM1553.10 536.00h10.10v8.00h-10.10zM1565.05 536.00h10.10v8.00h-10.10zM1576.99 536.00h10.10v8.00h-10.10zM1588.93 536.00h10.10v8.00h-10.10zM1600.88 536.00h10.10v8.00h-10.10zM1612.82 536.00h10.10v8.00h-10.10zM1624.76 536.00h10.10v8.00h-10.10zM1636.70 536.00h10.10v8.00h-10.10zM1648.65 536.00h10.10v8.00h-10.10zM1660.59 536.00h10.10v8.00h-10.10zM1672.53 536.00h10.10v8.00h-10.10zM1684.48 536.00h10.10v8.00h-10.10zM1696.42 536.00h10.10v8.00h-10.10zM1708.36 536.00h10.10v8.00h-10.10zM1720.31 536.00h10.10v8.00h-10.10zM1732.25 536.00h10.10v8.00h-10.10zM1744.19 536.00h10.10v8.00h-10.10zM1756.13 536.00h10.10v8.00h-10.10zM1768.08 536.00h10.10v8.00h-10.10zM1780.02 536.00h10.10v8.00h-10.10zM1791.96 536.00h10.10v8.00h-10.10zM1803.91 536.00h10.10v8.00h-10.10zM1815.85 536.00h10.10v8.00h-10.10zM1827.79 536.00h10.10v8.00h-10.10zM1839.74 536.00h10.10v8.00h-10.10zM1851.68 536.00h10.10v8.00h-10.10zM1863.62 536.00h10.10v8.00h-10.10zM1875.57 536.00h10.10v8.00h-10.10zM1887.51 536.00h10.10v8.00h-10.10zM1899.45 536.00h10.10v8.00h-10.10zM1911.39 536.00h10.10v8.00h-10.10zM1923.34 536.00h10.10v8.00h-10.10z" fill="#D2B43C"/>
<path d="M442.40 596.10h10.10v9.65h-10.10zM454.35 596.10h10.10v9.65h-10.10zM466.29 548.00h10.10v9.65h-10.10zM478.23 560.00h10.10v9.65h-10.10zM490.18 548.00h10.10v9.65h-10.10zM502.12 572.05h10.10v9.65h-10.10zM514.06 560.00h10.10v9.65h-10.10zM526.01 596.10h10.10v9.65h-10.10zM537.95 572.05h10.10v9.65h-10.10zM537.95 596.10h10.10v9.65h-10.10zM549.89 560.00h10.10v9.65h-10.10zM549.89 596.10h10.10v9.65h-10.10zM561.83 560.00h10.10v9.65h-10.10zM561.83 584.10h10.10v9.65h-10.10zM573.78 560.00h10.10v9.65h-10.10zM573.78 572.05h10.10v9.65h-10.10zM573.78 584.10h10.10v9.65h-10.10zM573.78 596.10h10.10v9.65h-10.10zM585.72 548.00h10.10v9.65h-10.10zM585.72 560.00h10.10v9.65h-10.10zM585.72 572.05h10.10v9.65h-10.10zM585.72 596.10h10.10v9.65h-10.10zM597.66 548.00h10.10v9.65h-10.10zM597.66 560.00h10.10v9.65h-10.10zM597.66 572.05h10.10v9.65h-10.10zM597.66 608.10h10.10v9.65h-10.10zM609.61 548.00h10.10v9.65h-10.10zM609.61 572.05h10.10v9.65h-10.10zM609.61 596.10h10.10v9.65h-10.10zM609.61 608.10h10.10v9.65h-10.10zM621.55 548.00h10.10v9.65h-10.10zM621.55 572.05h10.10v9.65h-10.10zM621.55 596.10h10.10v9.65h-10.10zM621.55 608.10h10.10v9.65h-10.10zM633.49 548.00h10.10v9.65h-10.10zM633.49 572.05h10.10v9.65h-10.10zM633.49 596.10h10.10v9.65h-10.10zM633.49 608.10h10.10v9.65h-10.10zM645.44 548.00h10.10v9.65h-10.10zM645.44 560.00h10.10v9.65h-10.10zM645.44 572.05h10.10v9.65h-10.10zM645.44 584.10h10.10v9.65h-10.10zM645.44 596.10h10.10v9.65h-10.10zM657.38 548.00h10.10v9.65h-10.10zM657.38 560.00h10.10v9.65h-10.10zM657.38 572.05h10.10v9.65h-10.10zM657.38 584.10h10.10v9.65h-10.10zM657.38 596.10h10.10v9.65h-10.10zM669.32 548.00h10.10v9.65h-10.10zM669.32 560.00h10.10v9.65h-10.10zM669.32 572.05h10.10v9.65h-10.10zM669.32 584.10h10.10v9.65h-10.10zM669.32 596.10h10.10v9.65h-10.10zM681.26 548.00h10.10v9.65h-10.10zM681.26 560.00h10.10v9.65h-10.10zM681.26 572.05h10.10v9.65h-10.10zM681.26 584.10h10.10v9.65h-10.10zM681.26 596.10h10.10v9.65h-10.10zM693.21 548.00h10.10v9.65h-10.10zM693.21 560.00h10.10v9.65h-10.10zM693.21 572.05h10.10v9.65h-10.10zM693.21 584.10h10.10v9.65h-10.10zM693.21 596.10h10.10v9.65h-10.10zM705.15 548.00h10.10v9.65h-10.10zM705.15 560.00h10.10v9.65h-10.10zM705.15 572.05h10.10v9.65h-10.10zM705.15 584.10h10.10v9.65h-10.10zM705.15 596.10h10.10v9.65h-10.10zM717.09 548.00h10.10v9.65h-10.10zM717.09 560.00h10.10v9.65h-10.10zM717.09 572.05h10.10v9.65h-10.10zM717.09 584.10h10.10v9.65h-10.10zM717.09 596.10h10.10v9.65h-10.10zM729.04 548.00h10.10v9.65h-10.10zM729.04 560.00h10.10v9.65h-10.10zM729.04 572.05h10.10v9.65h-10.10zM729.04 584.10h10.10v9.65h-10.10zM729.04 596.10h10.10v9.65h-10.10zM740.98 548.00h10.10v9.65h-10.10zM740.98 560.00h10.10v9.65h-10.10zM740.98 572.05h10.10v9.65h-10.10zM740.98 584.10h10.10v9.65h-10.10zM740.98 596.10h10.10v9.65h-10.10zM752.92 548.00h10.10v9.65h-10.10zM752.92 560.00h10.10v9.65h-10.10zM752.92 572.05h10.10v9.65h-10.10zM752.92 584.10h10.10v9.65h-10.10zM752.92 596.10h10.10v9.65h-10.10zM764.87 548.00h10.10v9.65h-10.10zM764.87 560.00h10.10v9.65h-10.10zM764.87 572.05h10.10v9.65h-10.10zM764.87 584.10h10.10v9.65h-10.10zM764.87 596.10h10.10v9.65h-10.10zM776.81 548.00h10.10v9.65h-10.10zM776.81 560.00h10.10v9.65h-10.10zM776.81 572.05h10.10v9.65h-10.10zM776.81 584.10h10.10v9.65h-10.10zM776.81 596.10h10.10v9.65h-10.10zM788.75 548.00h10.10v9.65h-10.10zM788.75 560.00h10.10v9.65h-10.10zM788.75 572.05h10.10v9.65h-10.10zM788.75 584.10h10.10v9.65h-10.10zM788.75 608.10h10.10v9.65h-10.10zM800.69 548.00h10.10v9.65h-10.10zM800.69 560.00h10.10v9.65h-10.10zM800.69 572.05h10.10v9.65h-10.10zM800.69 584.10h10.10v9.65h-10.10zM800.69 608.10h10.10v9.65h-10.10zM812.64 548.00h10.10v9.65h-10.10zM812.64 560.00h10.10v9.65h-10.10zM812.64 572.05h10.10v9.65h-10.10zM812.64 584.10h10.10v9.65h-10.10zM812.64 608.10h10.10v9.65h-10.10zM824.58 548.00h10.10v9.65h-10.10zM824.58 560.00h10.10v9.65h-10.10zM824.58 572.05h10.10v9.65h-10.10zM824.58 584.10h10.10v9.65h-10.10zM824.58 608.10h10.10v9.65h-10.10zM836.52 548.00h10.10v9.65h-10.10zM836.52 560.00h10.10v9.65h-10.10zM836.52 572.05h10.10v9.65h-10.10zM836.52 584.10h10.10v9.65h-10.10zM836.52 608.10h10.10v9.65h-10.10zM848.47 548.00h10.10v9.65h-10.10zM848.47 560.00h10.10v9.65h-10.10zM848.47 572.05h10.10v9.65h-10.10zM848.47 584.10h10.10v9.65h-10.10zM848.47 608.10h10.10v9.65h-10.10zM860.41 548.00h10.10v9.65h-10.10zM860.41 560.00h10.10v9.65h-10.10zM860.41 572.05h10.10v9.65h-10.10zM860.41 584.10h10.10v9.65h-10.10zM860.41 608.10h10.10v9.65h-10.10zM872.35 548.00h10.10v9.65h-10.10zM872.35 560.00h10.10v9.65h-10.10zM872.35 572.05h10.10v9.65h-10.10zM872.35 584.10h10.10v9.65h-10.10zM872.35 608.10h10.10v9.65h-10.10zM884.30 548.00h10.10v9.65h-10.10zM884.30 560.00h10.10v9.65h-10.10zM884.30 572.05h10.10v9.65h-10.10zM884.30 584.10h10.10v9.65h-10.10zM884.30 608.10h10.10v9.65h-10.10zM896.24 548.00h10.10v9.65h-10.10zM896.24 560.00h10.10v9.65h-10.10zM896.24 572.05h10.10v9.65h-10.10zM896.24 584.10h10.10v9.65h-10.10zM896.24 608.10h10.10v9.65h-10.10zM908.18 548.00h10.10v9.65h-10.10zM908.18 560.00h10.10v9.65h-10.10zM908.18 572.05h10.10v9.65h-10.10zM908.18 584.10h10.10v9.65h-10.10zM908.18 608.10h10.10v9.65h-10.10zM920.12 548.00h10.10v9.65h-10.10zM920.12 560.00h10.10v9.65h-10.10zM920.12 572.05h10.10v9.65h-10.10zM920.12 584.10h10.10v9.65h-10.10zM920.12 608.10h10.10v9.65h-10.10zM932.07 548.00h10.10v9.65h-10.10zM932.07 560.00h10.10v9.65h-10.10zM932.07 572.05h10.10v9.65h-10.10zM932.07 584.10h10.10v9.65h-10.10zM932.07 608.10h10.10v9.65h-10.10zM944.01 548.00h10.10v9.65h-10.10zM944.01 560.00h10.10v9.65h-10.10zM944.01 572.05h10.10v9.65h-10.10zM944.01 584.10h10.10v9.65h-10.10zM944.01 608.10h10.10v9.65h-10.10zM955.95 548.00h10.10v9.65h-10.10zM955.95 560.00h10.10v9.65h-10.10zM955.95 572.05h10.10v9.65h-10.10zM955.95 584.10h10.10v9.65h-10.10zM955.95 608.10h10.10v9.65h-10.10zM967.90 548.00h10.10v9.65h-10.10zM967.90 560.00h10.10v9.65h-10.10zM967.90 572.05h10.10v9.65h-10.10zM967.90 584.10h10.10v9.65h-10.10zM967.90 608.10h10.10v9.65h-10.10zM979.84 548.00h10.10v9.65h-10.10zM979.84 560.00h10.10v9.65h-10.10zM979.84 572.05h10.10v9.65h-10.10zM979.84 584.10h10.10v9.65h-10.10zM979.84 608.10h10.10v9.65h-10.10zM991.78 548.00h10.10v9.65h-10.10zM991.78 560.00h10.10v9.65h-10.10zM991.78 572.05h10.10v9.65h-10.10zM991.78 584.10h10.10v9.65h-10.10zM991.78 608.10h10.10v9.65h-10.10zM1003.73 548.00h10.10v9.65h-10.10zM1003.73 560.00h10.10v9.65h-10.10zM1003.73 572.05h10.10v9.65h-10.10zM1003.73 596.10h10.10v9.65h-10.10zM1003.73 608.10h10.10v9.65h-10.10zM1015.67 548.00h10.10v9.65h-10.10zM1015.67 560.00h10.10v9.65h-10.10zM1015.67 572.05h10.10v9.65h-10.10zM1015.67 596.10h10.10v9.65h-10.10zM1015.67 608.10h10.10v9.65h-10.10zM1027.61 548.00h10.10v9.65h-10.10zM1027.61 560.00h10.10v9.65h-10.10zM1027.61 572.05h10.10v9.65h-10.10zM1027.61 596.10h10.10v9.65h-10.10zM1027.61 608.10h10.10v9.65h-10.10zM1039.56 548.00h10.10v9.65h-10.10zM1039.56 560.00h10.10v9.65h-10.10zM1039.56 572.05h10.10v9.65h-10.10zM1039.56 596.10h10.10v9.65h-10.10zM1039.56 608.10h10.10v9.65h-10.10zM1051.50 548.00h10.10v9.65h-10.10zM1051.50 560.00h10.10v9.65h-10.10zM1051.50 572.05h10.10v9.65h-10.10zM1051.50 596.10h10.10v9.65h-10.10zM1051.50 608.10h10.10v9.65h-10.10zM1063.44 548.00h10.10v9.65h-10.10zM1063.44 560.00h10.10v9.65h-10.10zM1063.44 572.05h10.10v9.65h-10.10zM1063.44 596.10h10.10v9.65h-10.10zM1063.44 608.10h10.10v9.65h-10.10zM1075.38 548.00h10.10v9.65h-10.10zM1075.38 560.00h10.10v9.65h-10.10zM1075.38 572.05h10.10v9.65h-10.10zM1075.38 596.10h10.10v9.65h-10.10zM1075.38 608.10h10.10v9.65h-10.10zM1087.33 548.00h10.10v9.65h-10.10zM1087.33 560.00h10.10v9.65h-10.10zM1087.33 572.05h10.10v9.65h-10.10zM1087.33 596.10h10.10v9.65h-10.10zM1087.33 608.10h10.10v9.65h-10.10zM1099.27 548.00h10.10v9.65h-10.10zM1099.27 560.00h10.10v9.65h-10.10zM1099.27 572.05h10.10v9.65h-10.10zM1099.27 596.10h10.10v9.65h-10.10zM1099.27 608.10h10.10v9.65h-10.10zM1111.21 548.00h10.10v9.65h-10.10zM1111.21 560.00h10.10v9.65h-10.10zM1111.21 572.05h10.10v9.65h-10.10zM1111.21 596.10h10.10v9.65h-10.10zM1111.21 608.10h10.10v9.65h-10.10zM1123.16 548.00h10.10v9.65h-10.10zM1123.16 560.00h10.10v9.65h-10.10zM1123.16 572.05h10.10v9.65h-10.10zM1123.16 596.10h10.10v9.65h-10.10zM1123.16 608.10h10.10v9.65h-10.10zM1135.10 548.00h10.10v9.65h-10.10zM1135.10 560.00h10.10v9.65h-10.10zM1135.10 572.05h10.10v9.65h-10.10zM1135.10 596.10h10.10v9.65h-10.10zM1135.10 608.10h10.10v9.65h-10.10zM1147.04 548.00h10.10v9.65h-10.10zM1147.04 560.00h10.10v9.65h-10.10zM1147.04 584.10h10.10v9.65h-10.10zM1147.04 596.10h10.10v9.65h-10.10zM1147.04 608.10h10.10v9.65h-10.10zM1158.99 548.00h10.10v9.65h-10.10zM1158.99 560.00h10.10v9.65h-10.10zM1158.99 584.10h10.10v9.65h-10.10zM1158.99 596.10h10.10v9.65h-10.10zM1158.99 608.10h10.10v9.65h-10.10zM1170.93 548.00h10.10v9.65h-10.10zM1170.93 560.00h10.10v9.65h-10.10zM1170.93 584.10h10.10v9.65h-10.10zM1170.93 596.10h10.10v9.65h-10.10zM1170.93 608.10h10.10v9.65h-10.10zM1182.87 548.00h10.10v9.65h-10.10zM1182.87 560.00h10.10v9.65h-10.10zM1182.87 584.10h10.10v9.65h-10.10zM1182.87 596.10h10.10v9.65h-10.10zM1182.87 608.10h10.10v9.65h-10.10zM1194.81 548.00h10.10v9.65h-10.10zM1194.81 560.00h10.10v9.65h-10.10zM1194.81 584.10h10.10v9.65h-10.10zM1194.81 596.10h10.10v9.65h-10.10zM1194.81 608.10h10.10v9.65h-10.10zM1206.76 548.00h10.10v9.65h-10.10zM1206.76 560.00h10.10v9.65h-10.10zM1206.76 584.10h10.10v9.65h-10.10zM1206.76 596.10h10.10v9.65h-10.10zM1206.76 608.10h10.10v9.65h-10.10zM1218.70 548.00h10.10v9.65h-10.10zM1218.70 572.05h10.10v9.65h-10.10zM1218.70 584.10h10.10v9.65h-10.10zM1218.70 596.10h10.10v9.65h-10.10zM1218.70 608.10h10.10v9.65h-10.10zM1230.64 548.00h10.10v9.65h-10.10zM1230.64 572.05h10.10v9.65h-10.10zM1230.64 584.10h10.10v9.65h-10.10zM1230.64 596.10h10.10v9.65h-10.10zM1230.64 608.10h10.10v9.65h-10.10zM1242.59 548.00h10.10v9.65h-10.10zM1242.59 572.05h10.10v9.65h-10.10zM1242.59 584.10h10.10v9.65h-10.10zM1242.59 596.10h10.10v9.65h-10.10zM1242.59 608.10h10.10v9.65h-10.10zM1254.53 548.00h10.10v9.65h-10.10zM1254.53 572.05h10.10v9.65h-10.10zM1254.53 584.10h10.10v9.65h-10.10zM1254.53 596.10h10.10v9.65h-10.10zM1254.53 608.10h10.10v9.65h-10.10zM1266.47 548.00h10.10v9.65h-10.10zM1266.47 572.05h10.10v9.65h-10.10zM1266.47 584.10h10.10v9.65h-10.10zM1266.47 596.10h10.10v9.65h-10.10zM1266.47 608.10h10.10v9.65h-10.10zM1278.41 548.00h10.10v9.65h-10.10zM1278.41 572.05h10.10v9.65h-10.10zM1278.41 584.10h10.10v9.65h-10.10zM1278.41 596.10h10.10v9.65h-10.10zM1278.41 608.10h10.10v9.65h-10.10zM1290.36 548.00h10.10v9.65h-10.10zM1290.36 572.05h10.10v9.65h-10.10zM1290.36 584.10h10.10v9.65h-10.10zM1290.36 596.10h10.10v9.65h-10.10zM1290.36 608.10h10.10v9.65h-10.10zM1302.30 548.00h10.10v9.65h-10.10zM1302.30 572.05h10.10v9.65h-10.10zM1302.30 584.10h10.10v9.65h-10.10zM1302.30 596.10h10.10v9.65h-10.10zM1302.30 608.10h10.10v9.65h-10.10zM1314.24 548.00h10.10v9.65h-10.10zM1314.24 572.05h10.10v9.65h-10.10zM1314.24 584.10h10.10v9.65h-10.10zM1314.24 596.10h10.10v9.65h-10.10zM1314.24 608.10h10.10v9.65h-10.10zM1326.19 548.00h10.10v9.65h-10.10zM1326.19 572.05h10.10v9.65h-10.10zM1326.19 584.10h10.10v9.65h-10.10zM1326.19 596.10h10.10v9.65h-10.10zM1326.19 608.10h10.10v9.65h-10.10zM1338.13 548.00h10.10v9.65h-10.10zM1338.13 572.05h10.10v9.65h-10.10zM1338.13 584.10h10.10v9.65h-10.10zM1338.13 596.10h10.10v9.65h-10.10zM1338.13 608.10h10.10v9.65h-10.10zM1350.07 548.00h10.10v9.65h-10.10zM1350.07 572.05h10.10v9.65h-10.10zM1350.07 584.10h10.10v9.65h-10.10zM1350.07 596.10h10.10v9.65h-10.10zM1350.07 608.10h10.10v9.65h-10.10zM1362.02 548.00h10.10v9.65h-10.10zM1362.02 572.05h10.10v9.65h-10.10zM1362.02 584.10h10.10v9.65h-10.10zM1362.02 596.10h10.10v9.65h-10.10zM1362.02 608.10h10.10v9.65h-10.10zM1373.96 548.00h10.10v9.65h-10.10zM1373.96 572.05h10.10v9.65h-10.10zM1373.96 584.10h10.10v9.65h-10.10zM1373.96 596.10h10.10v9.65h-10.10zM1373.96 608.10h10.10v9.65h-10.10zM1385.90 548.00h10.10v9.65h-10.10zM1385.90 572.05h10.10v9.65h-10.10zM1385.90 584.10h10.10v9.65h-10.10zM1385.90 596.10h10.10v9.65h-10.10zM1385.90 608.10h10.10v9.65h-10.10zM1397.85 548.00h10.10v9.65h-10.10zM1397.85 572.05h10.10v9.65h-10.10zM1397.85 584.10h10.10v9.65h-10.10zM1397.85 596.10h10.10v9.65h-10.10zM1397.85 608.10h10.10v9.65h-10.10zM1409.79 548.00h10.10v9.65h-10.10zM1409.79 572.05h10.10v9.65h-10.10zM1409.79 584.10h10.10v9.65h-10.10zM1409.79 596.10h10.10v9.65h-10.10zM1409.79 608.10h10.10v9.65h-10.10zM1421.73 548.00h10.10v9.65h-10.10zM1421.73 572.05h10.10v9.65h-10.10zM1421.73 584.10h10.10v9.65h-10.10zM1421.73 596.10h10.10v9.65h-10.10zM1421.73 608.10h10.10v9.65h-10.10zM1433.67 548.00h10.10v9.65h-10.10zM1433.67 572.05h10.10v9.65h-10.10zM1433.67 584.10h10.10v9.65h-10.10zM1433.67 596.10h10.10v9.65h-10.10zM1433.67 608.10h10.10v9.65h-10.10zM1445.62 548.00h10.10v9.65h-10.10zM1445.62 572.05h10.10v9.65h-10.10zM1445.62 584.10h10.10v9.65h-10.10zM1445.62 596.10h10.10v9.65h-10.10zM1445.62 608.10h10.10v9.65h-10.10zM1457.56 548.00h10.10v9.65h-10.10zM1457.56 572.05h10.10v9.65h-10.10zM1457.56 584.10h10.10v9.65h-10.10zM1457.56 596.10h10.10v9.65h-10.10zM1457.56 608.10h10.10v9.65h-10.10zM1469.50 548.00h10.10v9.65h-10.10zM1469.50 572.05h10.10v9.65h-10.10zM1469.50 584.10h10.10v9.65h-10.10zM1469.50 596.10h10.10v9.65h-10.10zM1469.50 608.10h10.10v9.65h-10.10zM1481.45 548.00h10.10v9.65h-10.10zM1481.45 572.05h10.10v9.65h-10.10zM1481.45 584.10h10.10v9.65h-10.10zM1481.45 596.10h10.10v9.65h-10.10zM1481.45 608.10h10.10v9.65h-10.10zM1493.39 548.00h10.10v9.65h-10.10zM1493.39 572.05h10.10v9.65h-10.10zM1493.39 584.10h10.10v9.65h-10.10zM1493.39 596.10h10.10v9.65h-10.10zM1493.39 608.10h10.10v9.65h-10.10zM1505.33 548.00h10.10v9.65h-10.10zM1505.33 572.05h10.10v9.65h-10.10zM1505.33 584.10h10.10v9.65h-10.10zM1505.33 596.10h10.10v9.65h-10.10zM1505.33 608.10h10.10v9.65h-10.10zM1517.28 548.00h10.10v9.65h-10.10zM1517.28 572.05h10.10v9.65h-10.10zM1517.28 584.10h10.10v9.65h-10.10zM1517.28 596.10h10.10v9.65h-10.10zM1517.28 608.10h10.10v9.65h-10.10zM1529.22 548.00h10.10v9.65h-10.10zM1529.22 572.05h10.10v9.65h-10.10zM1529.22 584.10h10.10v9.65h-10.10zM1529.22 596.10h10.10v9.65h-10.10zM1529.22 608.10h10.10v9.65h-10.10zM1541.16 548.00h10.10v9.65h-10.10zM1541.16 572.05h10.10v9.65h-10.10zM1541.16 584.10h10.10v9.65h-10.10zM1541.16 596.10h10.10v9.65h-10.10zM1541.16 608.10h10.10v9.65h-10.10zM1553.10 548.00h10.10v9.65h-10.10zM1553.10 572.05h10.10v9.65h-10.10zM1553.10 584.10h10.10v9.65h-10.10zM1553.10 596.10h10.10v9.65h-10.10zM1553.10 608.10h10.10v9.65h-10.10zM1565.05 548.00h10.10v9.65h-10.10zM1565.05 572.05h10.10v9.65h-10.10zM1565.05 584.10h10.10v9.65h-10.10zM1565.05 596.10h10.10v9.65h-10.10zM1565.05 608.10h10.10v9.65h-10.10zM1576.99 548.00h10.10v9.65h-10.10zM1576.99 572.05h10.10v9.65h-10.10zM1576.99 584.10h10.10v9.65h-10.10zM1576.99 596.10h10.10v9.65h-10.10zM1576.99 608.10h10.10v9.65h-10.10zM1588.93 548.00h10.10v9.65h-10.10zM1588.93 572.05h10.10v9.65h-10.10zM1588.93 584.10h10.10v9.65h-10.10zM1588.93 596.10h10.10v9.65h-10.10zM1588.93 608.10h10.10v9.65h-10.10zM1600.88 548.00h10.10v9.65h-10.10zM1600.88 572.05h10.10v9.65h-10.10zM1600.88 584.10h10.10v9.65h-10.10zM1600.88 596.10h10.10v9.65h-10.10zM1600.88 608.10h10.10v9.65h-10.10zM1612.82 548.00h10.10v9.65h-10.10zM1612.82 572.05h10.10v9.65h-10.10zM1612.82 584.10h10.10v9.65h-10.10zM1612.82 596.10h10.10v9.65h-10.10zM1612.82 608.10h10.10v9.65h-10.10zM1624.76 548.00h10.10v9.65h-10.10zM1624.76 572.05h10.10v9.65h-10.10zM1624.76 584.10h10.10v9.65h-10.10zM1624.76 596.10h10.10v9.65h-10.10zM1624.76 608.10h10.10v9.65h-10.10zM1636.70 560.00h10.10v9.65h-10.10zM1636.70 572.05h10.10v9.65h-10.10zM1636.70 584.10h10.10v9.65h-10.10zM1636.70 596.10h10.10v9.65h-10.10zM1636.70 608.10h10.10v9.65h-10.10zM1648.65 560.00h10.10v9.65h-10.10zM1648.65 572.05h10.10v9.65h-10.10zM1648.65 584.10h10.10v9.65h-10.10zM1648.65 596.10h10.10v9.65h-10.10zM1648.65 608.10h10.10v9.65h-10.10zM1660.59 560.00h10.10v9.65h-10.10zM1660.59 572.05h10.10v9.65h-10.10zM1660.59 584.10h10.10v9.65h-10.10zM1660.59 596.10h10.10v9.65h-10.10zM1660.59 608.10h10.10v9.65h-10.10zM1672.53 560.00h10.10v9.65h-10.10zM1672.53 572.05h10.10v9.65h-10.10zM1672.53 584.10h10.10v9.65h-10.10zM1672.53 596.10h10.10v9.65h-10.10zM1672.53 608.10h10.10v9.65h-10.10zM1684.48 560.00h10.10v9.65h-10.10zM1684.48 572.05h10.10v9.65h-10.10zM1684.48 584.10h10.10v9.65h-10.10zM1684.48 596.10h10.10v9.65h-10.10zM1684.48 608.10h10.10v9.65h-10.10zM1696.42 560.00h10.10v9.65h-10.10zM1696.42 572.05h10.10v9.65h-10.10zM1696.42 584.10h10.10v9.65h-10.10zM1696.42 596.10h10.10v9.65h-10.10zM1696.42 608.10h10.10v9.65h-10.10zM1708.36 560.00h10.10v9.65h-10.10zM1708.36 572.05h10.10v9.65h-10.10zM1708.36 584.10h10.10v9.65h-10.10zM1708.36 596.10h10.10v9.65h-10.10zM1708.36 608.10h10.10v9.65h-10.10zM1720.31 560.00h10.10v9.65h-10.10zM1720.31 572.05h10.10v9.65h-10.10zM1720.31 584.10h10.10v9.65h-10.10zM1720.31 596.10h10.10v9.65h-10.10zM1720.31 608.10h10.10v9.65h-10.10zM1732.25 560.00h10.10v9.65h-10.10zM1732.25 572.05h10.10v9.65h-10.10zM1732.25 584.10h10.10v9.65h-10.10zM1732.25 596.10h10.10v9.65h-10.10zM1732.25 608.10h10.10v9.65h-10.10zM1744.19 560.00h10.10v9.65h-10.10zM1744.19 572.05h10.10v9.65h-10.10zM1744.19 584.10h10.10v9.65h-10.10zM1744.19 596.10h10.10v9.65h-10.10zM1744.19 608.10h10.10v9.65h-10.10zM1756.13 560.00h10.10v9.65h-10.10zM1756.13 572.05h10.10v9.65h-10.10zM1756.13 584.10h10.10v9.65h-10.10zM1756.13 596.10h10.10v9.65h-10.10zM1756.13 608.10h10.10v9.65h-10.10zM1768.08 560.00h10.10v9.65h-10.10zM1768.08 572.05h10.10v9.65h-10.10zM1768.08 584.10h10.10v9.65h-10.10zM1768.08 596.10h10.10v9.65h-10.10zM1768.08 608.10h10.10v9.65h-10.10zM1780.02 560.00h10.10v9.65h-10.10zM1780.02 572.05h10.10v9.65h-10.10zM1780.02 584.10h10.10v9.65h-10.10zM1780.02 596.10h10.10v9.65h-10.10zM1780.02 608.10h10.10v9.65h-10.10zM1791.96 560.00h10.10v9.65h-10.10zM1791.96 572.05h10.10v9.65h-10.10zM1791.96 584.10h10.10v9.65h-10.10zM1791.96 596.10h10.10v9.65h-10.10zM1791.96 608.10h10.10v9.65h-10.10zM1803.91 560.00h10.10v9.65h-10.10zM1803.91 572.05h10.10v9.65h-10.10zM1803.91 584.10h10.10v9.65h-10.10zM1803.91 596.10h10.10v9.65h-10.10zM1803.91 608.10h10.10v9.65h-10.10zM1815.85 560.00h10.10v9.65h-10.10zM1815.85 572.05h10.10v9.65h-10.10zM1815.85 584.10h10.10v9.65h-10.10zM1815.85 596.10h10.10v9.65h-10.10zM1815.85 608.10h10.10v9.65h-10.10zM1827.79 560.00h10.10v9.65h-10.10zM1827.79 572.05h10.10v9.65h-10.10zM1827.79 584.10h10.10v9.65h-10.10zM1827.79 596.10h10.10v9.65h-10.10zM1827.79 608.10h10.10v9.65h-10.10zM1839.74 548.00h10.10v9.65h-10.10zM1839.74 560.00h10.10v9.65h-10.10zM1839.74 572.05h10.10v9.65h-10.10zM1839.74 584.10h10.10v9.65h-10.10zM1839.74 596.10h10.10v9.65h-10.10zM1851.68 548.00h10.10v9.65h-10.10zM1851.68 560.00h10.10v9.65h-10.10zM1851.68 572.05h10.10v9.65h-10.10zM1851.68 584.10h10.10v9.65h-10.10zM1851.68 596.10h10.10v9.65h-10.10zM1863.62 548.00h10.10v9.65h-10.10zM1863.62 560.00h10.10v9.65h-10.10zM1863.62 572.05h10.10v9.65h-10.10zM1863.62 584.10h10.10v9.65h-10.10zM1863.62 608.10h10.10v9.65h-10.10zM1875.57 548.00h10.10v9.65h-10.10zM1875.57 560.00h10.10v9.65h-10.10zM1875.57 572.05h10.10v9.65h-10.10zM1875.57 596.10h10.10v9.65h-10.10zM1875.57 608.10h10.10v9.65h-10.10zM1887.51 548.00h10.10v9.65h-10.10zM1887.51 572.05h10.10v9.65h-10.10zM1887.51 584.10h10.10v9.65h-10.10zM1887.51 596.10h10.10v9.65h-10.10zM1887.51 608.10h10.10v9.65h-10.10zM1899.45 548.00h10.10v9.65h-10.10zM1899.45 572.05h10.10v9.65h-10.10zM1899.45 584.10h10.10v9.65h-10.10zM1899.45 596.10h10.10v9.65h-10.10zM1899.45 608.10h10.10v9.65h-10.10zM1911.39 560.00h10.10v9.65h-10.10zM1911.39 572.05h10.10v9.65h-10.10zM1911.39 584.10h10.10v9.65h-10.10zM1911.39 596.10h10.10v9.65h-10.10zM1911.39 608.10h10.10v9.65h-10.10zM1923.34 560.00h10.10v9.65h-10.10zM1923.34 572.05h10.10v9.65h-10.10zM1923.34 584.10h10.10v9.65h-10.10zM1923.34 596.10h10.10v9.65h-10.10zM1923.34 608.10h10.10v9.65h-10.10z" fill="#5DADEC"/>
<path d="M24.40 548.00h10.10v9.65h-10.10zM24.40 560.00h10.10v9.65h-10.10zM24.40 572.05h10.10v9.65h-10.10zM24.40 584.10h10.10v9.65h-10.10zM24.40 596.10h10.10v9.65h-10.10zM24.40 608.10h10.10v9.65h-10.10zM36.34 548.00h10.10v9.65h-10.10zM36.34 560.00h10.10v9.65h-10.10zM36.34 572.05h10.10v9.65h-10.10zM36.34 584.10h10.10v9.65h-10.10zM36.34 596.10h10.10v9.65h-10.10zM36.34 608.10h10.10v9.65h-10.10zM48.29 548.00h10.10v9.65h-10.10zM48.29 560.00h10.10v9.65h-10.10zM48.29 572.05h10.10v9.65h-10.10zM48.29 584.10h10.10v9.65h-10.10zM48.29 596.10h10.10v9.65h-10.10zM48.29 608.10h10.10v9.65h-10.10zM60.23 548.00h10.10v9.65h-10.10zM60.23 560.00h10.10v9.65h-10.10zM60.23 572.05h10.10v9.65h-10.10zM60.23 584.10h10.10v9.65h-10.10zM60.23 596.10h10.10v9.65h-10.10zM60.23 608.10h10.10v9.65h-10.10zM72.17 548.00h10.10v9.65h-10.10zM72.17 560.00h10.10v9.65h-10.10zM72.17 572.05h10.10v9.65h-10.10zM72.17 584.10h10.10v9.65h-10.10zM72.17 596.10h10.10v9.65h-10.10zM72.17 608.10h10.10v9.65h-10.10zM84.11 548.00h10.10v9.65h-10.10zM84.11 560.00h10.10v9.65h-10.10zM84.11 572.05h10.10v9.65h-10.10zM84.11 584.10h10.10v9.65h-10.10zM84.11 596.10h10.10v9.65h-10.10zM84.11 608.10h10.10v9.65h-10.10zM96.06 548.00h10.10v9.65h-10.10zM96.06 560.00h10.10v9.65h-10.10zM96.06 572.05h10.10v9.65h-10.10zM96.06 584.10h10.10v9.65h-10.10zM96.06 596.10h10.10v9.65h-10.10zM96.06 608.10h10.10v9.65h-10.10zM108.00 548.00h10.10v9.65h-10.10zM108.00 560.00h10.10v9.65h-10.10zM108.00 572.05h10.10v9.65h-10.10zM108.00 584.10h10.10v9.65h-10.10zM108.00 596.10h10.10v9.65h-10.10zM108.00 608.10h10.10v9.65h-10.10zM119.94 548.00h10.10v9.65h-10.10zM119.94 560.00h10.10v9.65h-10.10zM119.94 572.05h10.10v9.65h-10.10zM119.94 584.10h10.10v9.65h-10.10zM119.94 596.10h10.10v9.65h-10.10zM119.94 608.10h10.10v9.65h-10.10zM131.89 548.00h10.10v9.65h-10.10zM131.89 560.00h10.10v9.65h-10.10zM131.89 572.05h10.10v9.65h-10.10zM131.89 584.10h10.10v9.65h-10.10zM131.89 596.10h10.10v9.65h-10.10zM131.89 608.10h10.10v9.65h-10.10zM143.83 548.00h10.10v9.65h-10.10zM143.83 560.00h10.10v9.65h-10.10zM143.83 572.05h10.10v9.65h-10.10zM143.83 584.10h10.10v9.65h-10.10zM143.83 596.10h10.10v9.65h-10.10zM143.83 608.10h10.10v9.65h-10.10zM155.77 548.00h10.10v9.65h-10.10zM155.77 560.00h10.10v9.65h-10.10zM155.77 572.05h10.10v9.65h-10.10zM155.77 584.10h10.10v9.65h-10.10zM155.77 596.10h10.10v9.65h-10.10zM155.77 608.10h10.10v9.65h-10.10zM167.72 548.00h10.10v9.65h-10.10zM167.72 560.00h10.10v9.65h-10.10zM167.72 572.05h10.10v9.65h-10.10zM167.72 584.10h10.10v9.65h-10.10zM167.72 596.10h10.10v9.65h-10.10zM167.72 608.10h10.10v9.65h-10.10zM179.66 548.00h10.10v9.65h-10.10zM179.66 560.00h10.10v9.65h-10.10zM179.66 572.05h10.10v9.65h-10.10zM179.66 584.10h10.10v9.65h-10.10zM179.66 596.10h10.10v9.65h-10.10zM179.66 608.10h10.10v9.65h-10.10zM191.60 548.00h10.10v9.65h-10.10zM191.60 560.00h10.10v9.65h-10.10zM191.60 572.05h10.10v9.65h-10.10zM191.60 584.10h10.10v9.65h-10.10zM191.60 596.10h10.10v9.65h-10.10zM191.60 608.10h10.10v9.65h-10.10zM203.54 548.00h10.10v9.65h-10.10zM203.54 560.00h10.10v9.65h-10.10zM203.54 572.05h10.10v9.65h-10.10zM203.54 584.10h10.10v9.65h-10.10zM203.54 596.10h10.10v9.65h-10.10zM203.54 608.10h10.10v9.65h-10.10zM215.49 548.00h10.10v9.65h-10.10zM215.49 560.00h10.10v9.65h-10.10zM215.49 572.05h10.10v9.65h-10.10zM215.49 584.10h10.10v9.65h-10.10zM215.49 596.10h10.10v9.65h-10.10zM215.49 608.10h10.10v9.65h-10.10zM227.43 548.00h10.10v9.65h-10.10zM227.43 560.00h10.10v9.65h-10.10zM227.43 572.05h10.10v9.65h-10.10zM227.43 584.10h10.10v9.65h-10.10zM227.43 596.10h10.10v9.65h-10.10zM227.43 608.10h10.10v9.65h-10.10zM239.37 548.00h10.10v9.65h-10.10zM239.37 560.00h10.10v9.65h-10.10zM239.37 572.05h10.10v9.65h-10.10zM239.37 584.10h10.10v9.65h-10.10zM239.37 596.10h10.10v9.65h-10.10zM239.37 608.10h10.10v9.65h-10.10zM251.32 548.00h10.10v9.65h-10.10zM251.32 560.00h10.10v9.65h-10.10zM251.32 572.05h10.10v9.65h-10.10zM251.32 584.10h10.10v9.65h-10.10zM251.32 596.10h10.10v9.65h-10.10zM251.32 608.10h10.10v9.65h-10.10zM263.26 548.00h10.10v9.65h-10.10zM263.26 560.00h10.10v9.65h-10.10zM263.26 572.05h10.10v9.65h-10.10zM263.26 584.10h10.10v9.65h-10.10zM263.26 596.10h10.10v9.65h-10.10zM263.26 608.10h10.10v9.65h-10.10zM275.20 548.00h10.10v9.65h-10.10zM275.20 560.00h10.10v9.65h-10.10zM275.20 572.05h10.10v9.65h-10.10zM275.20 584.10h10.10v9.65h-10.10zM275.20 596.10h10.10v9.65h-10.10zM275.20 608.10h10.10v9.65h-10.10zM287.15 548.00h10.10v9.65h-10.10zM287.15 560.00h10.10v9.65h-10.10zM287.15 572.05h10.10v9.65h-10.10zM287.15 584.10h10.10v9.65h-10.10zM287.15 596.10h10.10v9.65h-10.10zM287.15 608.10h10.10v9.65h-10.10zM299.09 548.00h10.10v9.65h-10.10zM299.09 560.00h10.10v9.65h-10.10zM299.09 572.05h10.10v9.65h-10.10zM299.09 584.10h10.10v9.65h-10.10zM299.09 596.10h10.10v9.65h-10.10zM299.09 608.10h10.10v9.65h-10.10zM311.03 548.00h10.10v9.65h-10.10zM311.03 560.00h10.10v9.65h-10.10zM311.03 572.05h10.10v9.65h-10.10zM311.03 584.10h10.10v9.65h-10.10zM311.03 596.10h10.10v9.65h-10.10zM311.03 608.10h10.10v9.65h-10.10zM322.97 548.00h10.10v9.65h-10.10zM322.97 560.00h10.10v9.65h-10.10zM322.97 572.05h10.10v9.65h-10.10zM322.97 584.10h10.10v9.65h-10.10zM322.97 596.10h10.10v9.65h-10.10zM322.97 608.10h10.10v9.65h-10.10zM334.92 548.00h10.10v9.65h-10.10zM334.92 560.00h10.10v9.65h-10.10zM334.92 572.05h10.10v9.65h-10.10zM334.92 584.10h10.10v9.65h-10.10zM334.92 596.10h10.10v9.65h-10.10zM334.92 608.10h10.10v9.65h-10.10zM346.86 548.00h10.10v9.65h-10.10zM346.86 560.00h10.10v9.65h-10.10zM346.86 572.05h10.10v9.65h-10.10zM346.86 584.10h10.10v9.65h-10.10zM346.86 596.10h10.10v9.65h-10.10zM346.86 608.10h10.10v9.65h-10.10zM358.80 548.00h10.10v9.65h-10.10zM358.80 560.00h10.10v9.65h-10.10zM358.80 572.05h10.10v9.65h-10.10zM358.80 584.10h10.10v9.65h-10.10zM358.80 596.10h10.10v9.65h-10.10zM358.80 608.10h10.10v9.65h-10.10zM370.75 548.00h10.10v9.65h-10.10zM370.75 560.00h10.10v9.65h-10.10zM370.75 572.05h10.10v9.65h-10.10zM370.75 584.10h10.10v9.65h-10.10zM370.75 596.10h10.10v9.65h-10.10zM370.75 608.10h10.10v9.65h-10.10zM382.69 548.00h10.10v9.65h-10.10zM382.69 560.00h10.10v9.65h-10.10zM382.69 572.05h10.10v9.65h-10.10zM382.69 584.10h10.10v9.65h-10.10zM382.69 596.10h10.10v9.65h-10.10zM382.69 608.10h10.10v9.65h-10.10zM394.63 548.00h10.10v9.65h-10.10zM394.63 560.00h10.10v9.65h-10.10zM394.63 572.05h10.10v9.65h-10.10zM394.63 584.10h10.10v9.65h-10.10zM394.63 596.10h10.10v9.65h-10.10zM394.63 608.10h10.10v9.65h-10.10zM406.58 548.00h10.10v9.65h-10.10zM406.58 560.00h10.10v9.65h-10.10zM406.58 572.05h10.10v9.65h-10.10zM406.58 584.10h10.10v9.65h-10.10zM406.58 596.10h10.10v9.65h-10.10zM406.58 608.10h10.10v9.65h-10.10zM418.52 548.00h10.10v9.65h-10.10zM418.52 560.00h10.10v9.65h-10.10zM418.52 572.05h10.10v9.65h-10.10zM418.52 584.10h10.10v9.65h-10.10zM418.52 596.10h10.10v9.65h-10.10zM418.52 608.10h10.10v9.65h-10.10zM430.46 548.00h10.10v9.65h-10.10zM430.46 560.00h10.10v9.65h-10.10zM430.46 572.05h10.10v9.65h-10.10zM430.46 584.10h10.10v9.65h-10.10zM430.46 596.10h10.10v9.65h-10.10zM430.46 608.10h10.10v9.65h-10.10zM442.40 548.00h10.10v9.65h-10.10zM442.40 560.00h10.10v9.65h-10.10zM442.40 572.05h10.10v9.65h-10.10zM442.40 584.10h10.10v9.65h-10.10zM442.40 608.10h10.10v9.65h-10.10zM454.35 548.00h10.10v9.65h-10.10zM454.35 560.00h10.10v9.65h-10.10zM454.35 572.05h10.10v9.65h-10.10zM454.35 584.10h10.10v9.65h-10.10zM454.35 608.10h10.10v9.65h-10.10zM466.29 560.00h10.10v9.65h-10.10zM466.29 572.05h10.10v9.65h-10.10zM466.29 584.10h10.10v9.65h-10.10zM466.29 596.10h10.10v9.65h-10.10zM466.29 608.10h10.10v9.65h-10.10zM478.23 548.00h10.10v9.65h-10.10zM478.23 572.05h10.10v9.65h-10.10zM478.23 584.10h10.10v9.65h-10.10zM478.23 596.10h10.10v9.65h-10.10zM478.23 608.10h10.10v9.65h-10.10zM490.18 560.00h10.10v9.65h-10.10zM490.18 572.05h10.10v9.65h-10.10zM490.18 584.10h10.10v9.65h-10.10zM490.18 596.10h10.10v9.65h-10.10zM490.18 608.10h10.10v9.65h-10.10zM502.12 548.00h10.10v9.65h-10.10zM502.12 560.00h10.10v9.65h-10.10zM502.12 584.10h10.10v9.65h-10.10zM502.12 596.10h10.10v9.65h-10.10zM502.12 608.10h10.10v9.65h-10.10zM514.06 548.00h10.10v9.65h-10.10zM514.06 572.05h10.10v9.65h-10.10zM514.06 584.10h10.10v9.65h-10.10zM514.06 596.10h10.10v9.65h-10.10zM514.06 608.10h10.10v9.65h-10.10zM526.01 548.00h10.10v9.65h-10.10zM526.01 560.00h10.10v9.65h-10.10zM526.01 572.05h10.10v9.65h-10.10zM526.01 584.10h10.10v9.65h-10.10zM526.01 608.10h10.10v9.65h-10.10zM537.95 548.00h10.10v9.65h-10.10zM537.95 560.00h10.10v9.65h-10.10zM537.95 584.10h10.10v9.65h-10.10zM537.95 608.10h10.10v9.65h-10.10zM549.89 548.00h10.10v9.65h-10.10zM549.89 572.05h10.10v9.65h-10.10zM549.89 584.10h10.10v9.65h-10.10zM549.89 608.10h10.10v9.65h-10.10zM561.83 548.00h10.10v9.65h-10.10zM561.83 572.05h10.10v9.65h-10.10zM561.83 596.10h10.10v9.65h-10.10zM561.83 608.10h10.10v9.65h-10.10zM573.78 548.00h10.10v9.65h-10.10zM573.78 608.10h10.10v9.65h-10.10zM585.72 584.10h10.10v9.65h-10.10zM585.72 608.10h10.10v9.65h-10.10zM597.66 584.10h10.10v9.65h-10.10zM597.66 596.10h10.10v9.65h-10.10zM609.61 560.00h10.10v9.65h-10.10zM609.61 584.10h10.10v9.65h-10.10zM621.55 560.00h10.10v9.65h-10.10zM621.55 584.10h10.10v9.65h-10.10zM633.49 560.00h10.10v9.65h-10.10zM633.49 584.10h10.10v9.65h-10.10zM645.44 608.10h10.10v9.65h-10.10zM657.38 608.10h10.10v9.65h-10.10zM669.32 608.10h10.10v9.65h-10.10zM681.26 608.10h10.10v9.65h-10.10zM693.21 608.10h10.10v9.65h-10.10zM705.15 608.10h10.10v9.65h-10.10zM717.09 608.10h10.10v9.65h-10.10zM729.04 608.10h10.10v9.65h-10.10zM740.98 608.10h10.10v9.65h-10.10zM752.92 608.10h10.10v9.65h-10.10zM764.87 608.10h10.10v9.65h-10.10zM776.81 608.10h10.10v9.65h-10.10zM788.75 596.10h10.10v9.65h-10.10zM800.69 596.10h10.10v9.65h-10.10zM812.64 596.10h10.10v9.65h-10.10zM824.58 596.10h10.10v9.65h-10.10zM836.52 596.10h10.10v9.65h-10.10zM848.47 596.10h10.10v9.65h-10.10zM860.41 596.10h10.10v9.65h-10.10zM872.35 596.10h10.10v9.65h-10.10zM884.30 596.10h10.10v9.65h-10.10zM896.24 596.10h10.10v9.65h-10.10zM908.18 596.10h10.10v9.65h-10.10zM920.12 596.10h10.10v9.65h-10.10zM932.07 596.10h10.10v9.65h-10.10zM944.01 596.10h10.10v9.65h-10.10zM955.95 596.10h10.10v9.65h-10.10zM967.90 596.10h10.10v9.65h-10.10zM979.84 596.10h10.10v9.65h-10.10zM991.78 596.10h10.10v9.65h-10.10zM1003.73 584.10h10.10v9.65h-10.10zM1015.67 584.10h10.10v9.65h-10.10zM1027.61 584.10h10.10v9.65h-10.10zM1039.56 584.10h10.10v9.65h-10.10zM1051.50 584.10h10.10v9.65h-10.10zM1063.44 584.10h10.10v9.65h-10.10zM1075.38 584.10h10.10v9.65h-10.10zM1087.33 584.10h10.10v9.65h-10.10zM1099.27 584.10h10.10v9.65h-10.10zM1111.21 584.10h10.10v9.65h-10.10zM1123.16 584.10h10.10v9.65h-10.10zM1135.10 584.10h10.10v9.65h-10.10zM1147.04 572.05h10.10v9.65h-10.10zM1158.99 572.05h10.10v9.65h-10.10zM1170.93 572.05h10.10v9.65h-10.10zM1182.87 572.05h10.10v9.65h-10.10zM1194.81 572.05h10.10v9.65h-10.10zM1206.76 572.05h10.10v9.65h-10.10zM1218.70 560.00h10.10v9.65h-10.10zM1230.64 560.00h10.10v9.65h-10.10zM1242.59 560.00h10.10v9.65h-10.10zM1254.53 560.00h10.10v9.65h-10.10zM1266.47 560.00h10.10v9.65h-10.10zM1278.41 560.00h10.10v9.65h-10.10zM1290.36 560.00h10.10v9.65h-10.10zM1302.30 560.00h10.10v9.65h-10.10zM1314.24 560.00h10.10v9.65h-10.10zM1326.19 560.00h10.10v9.65h-10.10zM1338.13 560.00h10.10v9.65h-10.10zM1350.07 560.00h10.10v9.65h-10.10zM1362.02 560.00h10.10v9.65h-10.10zM1373.96 560.00h10.10v9.65h-10.10zM1385.90 560.00h10.10v9.65h-10.10zM1397.85 560.00h10.10v9.65h-10.10zM1409.79 560.00h10.10v9.65h-10.10zM1421.73 560.00h10.10v9.65h-10.10zM1433.67 560.00h10.10v9.65h-10.10zM1445.62 560.00h10.10v9.65h-10.10zM1457.56 560.00h10.10v9.65h-10.10zM1469.50 560.00h10.10v9.65h-10.10zM1481.45 560.00h10.10v9.65h-10.10zM1493.39 560.00h10.10v9.65h-10.10zM1505.33 560.00h10.10v9.65h-10.10zM1517.28 560.00h10.10v9.65h-10.10zM1529.22 560.00h10.10v9.65h-10.10zM1541.16 560.00h10.10v9.65h-10.10zM1553.10 560.00h10.10v9.65h-10.10zM1565.05 560.00h10.10v9.65h-10.10zM1576.99 560.00h10.10v9.65h-10.10zM1588.93 560.00h10.10v9.65h-10.10zM1600.88 560.00h10.10v9.65h-10.10zM1612.82 560.00h10.10v9.65h-10.10zM1624.76 560.00h10.10v9.65h-10.10zM1636.70 548.00h10.10v9.65h-10.10zM1648.65 548.00h10.10v9.65h-10.10zM1660.59 548.00h10.10v9.65h-10.10zM1672.53 548.00h10.10v9.65h-10.10zM1684.48 548.00h10.10v9.65h-10.10zM1696.42 548.00h10.10v9.65h-10.10zM1708.36 548.00h10.10v9.65h-10.10zM1720.31 548.00h10.10v9.65h-10.10zM1732.25 548.00h10.10v9.65h-10.10zM1744.19 548.00h10.10v9.65h-10.10zM1756.13 548.00h10.10v9.65h-10.10zM1768.08 548.00h10.10v9.65h-10.10zM1780.02 548.00h10.10v9.65h-10.10zM1791.96 548.00h10.10v9.65h-10.10zM1803.91 548.00h10.10v9.65h-10.10zM1815.85 548.00h10.10v9.65h-10.10zM1827.79 548.00h10.10v9.65h-10.10zM1839.74 608.10h10.10v9.65h-10.10zM1851.68 608.10h10.10v9.65h-10.10zM1863.62 596.10h10.10v9.65h-10.10zM1875.57 584.10h10.10v9.65h-10.10zM1887.51 560.00h10.10v9.65h-10.10zM1899.45 560.00h10.10v9.65h-10.10zM1911.39 548.00h10.10v9.65h-10.10zM1923.34 548.00h10.10v9.65h-10.10z" fill="#FF0000"/>
</g>
<clipPath id="lc"><rect x="0" y="615" width="2058" height="58.7"/></clipPath>
<g clip-path="url(#lc)" font-size="9.6" fill="#000">
<text transform="translate(26.55 621.8) rotate(90)">PIK3CD.AS1</text>
<text transform="translate(38.49 621.8) rotate(90)">SPEN</text>
<text transform="translate(50.44 621.8) rotate(90)">DNAJC6</text>
<text transform="translate(62.38 621.8) rotate(90)">SCCPDH</text>
<text transform="translate(74.32 621.8) rotate(90)">CDKL4</text>
<text transform="translate(86.27 621.8) rotate(90)">MYO7B</text>
<text transform="translate(98.21 621.8) rotate(90)">TWIST2</text>
<text transform="translate(110.15 621.8) rotate(90)">ERC2</text>
<text transform="translate(122.09 621.8) rotate(90)">PCDHA5</text>
<text transform="translate(134.04 621.8) rotate(90)">GABBR1</text>
<text transform="translate(145.98 621.8) rotate(90)">C4B.C4B_2</text>
<text transform="translate(157.92 621.8) rotate(90)">POM121L12</text>
<text transform="translate(169.87 621.8) rotate(90)">PCLO</text>
<text transform="translate(181.81 621.8) rotate(90)">POMK</text>
<text transform="translate(193.75 621.8) rotate(90)">NLRP14</text>
<text transform="translate(205.69 621.8) rotate(90)">OR5T3</text>
<text transform="translate(217.64 621.8) rotate(90)">OR10Q1</text>
<text transform="translate(229.58 621.8) rotate(90)">TMEM260</text>
<text transform="translate(241.52 621.8) rotate(90)">ATP10A</text>
<text transform="translate(253.47 621.8) rotate(90)">GABRA5</text>
<text transform="translate(265.41 621.8) rotate(90)">PPM1E</text>
<text transform="translate(277.35 621.8) rotate(90)">SLC1A6</text>
<text transform="translate(289.30 621.8) rotate(90)">PRODH2</text>
<text transform="translate(301.24 621.8) rotate(90)">ZNF8</text>
<text transform="translate(313.18 621.8) rotate(90)">SMOX</text>
<text transform="translate(325.12 621.8) rotate(90)">RBM12</text>
<text transform="translate(337.07 621.8) rotate(90)">PRR5</text>
<text transform="translate(349.01 621.8) rotate(90)">IGSF10</text>
<text transform="translate(360.95 621.8) rotate(90)">GDNF</text>
<text transform="translate(372.90 621.8) rotate(90)">ITK</text>
<text transform="translate(384.84 621.8) rotate(90)">MAS1L</text>
<text transform="translate(396.78 621.8) rotate(90)">MTNR1B</text>
<text transform="translate(408.73 621.8) rotate(90)">PLXDC1</text>
<text transform="translate(420.67 621.8) rotate(90)">TMPRSS3</text>
<text transform="translate(432.61 621.8) rotate(90)">RFPL2</text>
<text transform="translate(444.55 621.8) rotate(90)">DCHS2</text>
<text transform="translate(456.50 621.8) rotate(90)">DNAJC12</text>
<text transform="translate(468.44 621.8) rotate(90)">CDH13</text>
<text transform="translate(480.38 621.8) rotate(90)">SLFN14</text>
<text transform="translate(492.33 621.8) rotate(90)">WIPF2</text>
<text transform="translate(504.27 621.8) rotate(90)">SNX14</text>
<text transform="translate(516.21 621.8) rotate(90)">COBL</text>
<text transform="translate(528.16 621.8) rotate(90)">ADAMTS1</text>
<text transform="translate(540.10 621.8) rotate(90)">NR2E1</text>
<text transform="translate(552.04 621.8) rotate(90)">SLFN14.1</text>
<text transform="translate(563.98 621.8) rotate(90)">SMARCE1</text>
<text transform="translate(575.93 621.8) rotate(90)">SMARCE1.1</text>
<text transform="translate(587.87 621.8) rotate(90)">JPH2</text>
<text transform="translate(599.81 621.8) rotate(90)">MEI1</text>
<text transform="translate(611.76 621.8) rotate(90)">TAS1R2</text>
<text transform="translate(623.70 621.8) rotate(90)">DOCK4</text>
<text transform="translate(635.64 621.8) rotate(90)">SELP</text>
<text transform="translate(647.59 621.8) rotate(90)">CD244</text>
<text transform="translate(659.53 621.8) rotate(90)">KALRN</text>
<text transform="translate(671.47 621.8) rotate(90)">FAT4</text>
<text transform="translate(683.41 621.8) rotate(90)">PCDHB6</text>
<text transform="translate(695.36 621.8) rotate(90)">RGS14</text>
<text transform="translate(707.30 621.8) rotate(90)">GPLD1</text>
<text transform="translate(719.24 621.8) rotate(90)">KIAA0368</text>
<text transform="translate(731.19 621.8) rotate(90)">DYNC2H1</text>
<text transform="translate(743.13 621.8) rotate(90)">SHISA9</text>
<text transform="translate(755.07 621.8) rotate(90)">C17orf74</text>
<text transform="translate(767.02 621.8) rotate(90)">NAGLU</text>
<text transform="translate(778.96 621.8) rotate(90)">EIF3G</text>
<text transform="translate(790.90 621.8) rotate(90)">ZYG11A</text>
<text transform="translate(802.84 621.8) rotate(90)">SELE</text>
<text transform="translate(814.79 621.8) rotate(90)">SNTG2</text>
<text transform="translate(826.73 621.8) rotate(90)">SLC5A7</text>
<text transform="translate(838.67 621.8) rotate(90)">UBP1</text>
<text transform="translate(850.62 621.8) rotate(90)">TLR9</text>
<text transform="translate(862.56 621.8) rotate(90)">NIM1K</text>
<text transform="translate(874.50 621.8) rotate(90)">PCDHA8</text>
<text transform="translate(886.45 621.8) rotate(90)">ZNF483</text>
<text transform="translate(898.39 621.8) rotate(90)">OR5B3</text>
<text transform="translate(910.33 621.8) rotate(90)">HELB</text>
<text transform="translate(922.27 621.8) rotate(90)">ZNF668</text>
<text transform="translate(934.22 621.8) rotate(90)">NUFIP2</text>
<text transform="translate(946.16 621.8) rotate(90)">SPTBN4</text>
<text transform="translate(958.10 621.8) rotate(90)">NSFL1C</text>
<text transform="translate(970.05 621.8) rotate(90)">PCSK2</text>
<text transform="translate(981.99 621.8) rotate(90)">CECR1</text>
<text transform="translate(993.93 621.8) rotate(90)">LMF2</text>
<text transform="translate(1005.88 621.8) rotate(90)">ALLC</text>
<text transform="translate(1017.82 621.8) rotate(90)">LRP1B</text>
<text transform="translate(1029.76 621.8) rotate(90)">PCDH1</text>
<text transform="translate(1041.71 621.8) rotate(90)">DNAH11</text>
<text transform="translate(1053.65 621.8) rotate(90)">ZFP37</text>
<text transform="translate(1065.59 621.8) rotate(90)">GOT1</text>
<text transform="translate(1077.53 621.8) rotate(90)">ZNF408</text>
<text transform="translate(1089.48 621.8) rotate(90)">OR8A1</text>
<text transform="translate(1101.42 621.8) rotate(90)">ZBTB7A</text>
<text transform="translate(1113.36 621.8) rotate(90)">ZNF264</text>
<text transform="translate(1125.31 621.8) rotate(90)">TBL1X</text>
<text transform="translate(1137.25 621.8) rotate(90)">CNGA2</text>
<text transform="translate(1149.19 621.8) rotate(90)">C2orf78</text>
<text transform="translate(1161.14 621.8) rotate(90)">ABCF1</text>
<text transform="translate(1173.08 621.8) rotate(90)">CSMD3</text>
<text transform="translate(1185.02 621.8) rotate(90)">CCKBR</text>
<text transform="translate(1196.96 621.8) rotate(90)">IRAK3</text>
<text transform="translate(1208.91 621.8) rotate(90)">FAM71E2</text>
<text transform="translate(1220.85 621.8) rotate(90)">TMEM56</text>
<text transform="translate(1232.79 621.8) rotate(90)">GSTM5</text>
<text transform="translate(1244.74 621.8) rotate(90)">IVNS1ABP</text>
<text transform="translate(1256.68 621.8) rotate(90)">NUP133</text>
<text transform="translate(1268.62 621.8) rotate(90)">ARV1</text>
<text transform="translate(1280.57 621.8) rotate(90)">RTN4</text>
<text transform="translate(1292.51 621.8) rotate(90)">FSIP2</text>
<text transform="translate(1304.45 621.8) rotate(90)">MPP4</text>
<text transform="translate(1316.39 621.8) rotate(90)">GALNT15</text>
<text transform="translate(1328.34 621.8) rotate(90)">CACNA1D</text>
<text transform="translate(1340.28 621.8) rotate(90)">ATR</text>
<text transform="translate(1352.22 621.8) rotate(90)">SLC25A31</text>
<text transform="translate(1364.17 621.8) rotate(90)">KIAA0922</text>
<text transform="translate(1376.11 621.8) rotate(90)">SLC25A4</text>
<text transform="translate(1388.05 621.8) rotate(90)">ATP10B</text>
<text transform="translate(1400.00 621.8) rotate(90)">SUPT3H</text>
<text transform="translate(1411.94 621.8) rotate(90)">PTCHD4</text>
<text transform="translate(1423.88 621.8) rotate(90)">DST</text>
<text transform="translate(1435.82 621.8) rotate(90)">NMBR</text>
<text transform="translate(1447.77 621.8) rotate(90)">FIS1</text>
<text transform="translate(1459.71 621.8) rotate(90)">FUT10</text>
<text transform="translate(1471.65 621.8) rotate(90)">RUNX1T1</text>
<text transform="translate(1483.60 621.8) rotate(90)">ELOVL3</text>
<text transform="translate(1495.54 621.8) rotate(90)">ITPRIP</text>
<text transform="translate(1507.48 621.8) rotate(90)">DNHD1</text>
<text transform="translate(1519.43 621.8) rotate(90)">TRIM66</text>
<text transform="translate(1531.37 621.8) rotate(90)">FAM111A</text>
<text transform="translate(1543.31 621.8) rotate(90)">GAL3ST3</text>
<text transform="translate(1555.25 621.8) rotate(90)">NARS2</text>
<text transform="translate(1567.20 621.8) rotate(90)">C3AR1</text>
<text transform="translate(1579.14 621.8) rotate(90)">CYP1A2</text>
<text transform="translate(1591.08 621.8) rotate(90)">SLC25A35</text>
<text transform="translate(1603.03 621.8) rotate(90)">NANOS3</text>
<text transform="translate(1614.97 621.8) rotate(90)">WDR87</text>
<text transform="translate(1626.91 621.8) rotate(90)">LAIR2</text>
<text transform="translate(1638.86 621.8) rotate(90)">POMGNT2</text>
<text transform="translate(1650.80 621.8) rotate(90)">ATP13A3</text>
<text transform="translate(1662.74 621.8) rotate(90)">GABRG1</text>
<text transform="translate(1674.68 621.8) rotate(90)">EGF</text>
<text transform="translate(1686.63 621.8) rotate(90)">TERT</text>
<text transform="translate(1698.57 621.8) rotate(90)">HSPA9</text>
<text transform="translate(1710.51 621.8) rotate(90)">CPLX2</text>
<text transform="translate(1722.46 621.8) rotate(90)">RNF216</text>
<text transform="translate(1734.40 621.8) rotate(90)">CSMD1</text>
<text transform="translate(1746.34 621.8) rotate(90)">DENND4C</text>
<text transform="translate(1758.29 621.8) rotate(90)">SMG1</text>
<text transform="translate(1770.23 621.8) rotate(90)">CCP110</text>
<text transform="translate(1782.17 621.8) rotate(90)">SETD1A</text>
<text transform="translate(1794.11 621.8) rotate(90)">SLC7A5</text>
<text transform="translate(1806.06 621.8) rotate(90)">SNRPB</text>
<text transform="translate(1818.00 621.8) rotate(90)">CYYR1</text>
<text transform="translate(1829.94 621.8) rotate(90)">IL17RA</text>
<text transform="translate(1841.89 621.8) rotate(90)">LRCH4</text>
<text transform="translate(1853.83 621.8) rotate(90)">CCDC91</text>
<text transform="translate(1865.77 621.8) rotate(90)">KCNH5</text>
<text transform="translate(1877.72 621.8) rotate(90)">KIAA1217</text>
<text transform="translate(1889.66 621.8) rotate(90)">FN1</text>
<text transform="translate(1901.60 621.8) rotate(90)">SRGAP3</text>
<text transform="translate(1913.54 621.8) rotate(90)">CDC5L</text>
<text transform="translate(1925.49 621.8) rotate(90)">KIAA1324L</text>
</g>
<g font-size="9.5" fill="#000">
<text x="1938.1" y="556.3">Gastric_cancer 6</text>
<text x="1938.1" y="568.3">Gastric_cancer 5</text>
<text x="1938.1" y="580.3">Gastric_cancer 4</text>
<text x="1938.1" y="592.4">Gastric_cancer 3</text>
<text x="1938.1" y="604.4">Gastric_cancer 2</text>
<text x="1938.1" y="616.4">Gastric_cancer 1</text>
</g>
<text x="2021.4" y="553.9" font-size="9.5" font-weight="700" fill="#000">Var1</text>
<rect x="2020.4" y="556.5" width="8.3" height="8.4" fill="#BBBBBB"/>
<rect x="2021.4" y="557.5" width="6.3" height="6.4" fill="#D2B43C"/>
<text x="2030.9" y="564.3" font-size="9.5" fill="#000">1</text>
<rect x="2020.4" y="566.7" width="8.3" height="8.4" fill="#BBBBBB"/>
<rect x="2021.4" y="567.7" width="6.3" height="6.4" fill="#DA9FFF"/>
<text x="2030.9" y="574.5" font-size="9.5" fill="#000">2</text>
<rect x="2020.4" y="576.9" width="8.3" height="8.4" fill="#BBBBBB"/>
<rect x="2021.4" y="577.9" width="6.3" height="6.4" fill="#FF93AC"/>
<text x="2030.9" y="584.7" font-size="9.5" fill="#000">4</text>
<rect x="2020.4" y="587.1" width="8.3" height="8.4" fill="#BBBBBB"/>
<rect x="2021.4" y="588.1" width="6.3" height="6.4" fill="#00C6EA"/>
<text x="2030.9" y="594.9" font-size="9.5" fill="#000">5</text>
<rect x="2020.4" y="597.3" width="8.3" height="8.4" fill="#BBBBBB"/>
<rect x="2021.4" y="598.3" width="6.3" height="6.4" fill="#2ECF83"/>
<text x="2030.9" y="605.1" font-size="9.5" fill="#000">6</text>
<path d="M807.3 739.3 L1522.8 739.0 A32.1 32.1 0 0 1 1522.8 778.0 L807.3 778.0 A33.8 33.8 0 0 1 807.3 739.3Z" fill="#FFD100"/>
<text x="15.2" y="726.3" font-size="33.0" font-weight="700" textLength="80.9" lengthAdjust="spacingAndGlyphs" fill="#1a1a1a" xml:space="preserve">Fig. 1</text>
<text x="111.1" y="726.3" font-size="33.0" font-weight="400" textLength="264.1" lengthAdjust="spacingAndGlyphs" fill="#1a1a1a" stroke="#fff" stroke-width="0.7" xml:space="preserve">Genetic intratumor </text>
<text x="375.2" y="726.3" font-size="33.0" font-weight="400" textLength="202.3" lengthAdjust="spacingAndGlyphs" fill="#1a1a1a" stroke="#fff" stroke-width="0.7" xml:space="preserve">heterogeneity, </text>
<text x="577.5" y="726.3" font-size="33.0" font-weight="400" textLength="256.1" lengthAdjust="spacingAndGlyphs" fill="#1a1a1a" stroke="#fff" stroke-width="0.7" xml:space="preserve">homogeneity, and </text>
<text x="833.6" y="726.3" font-size="33.0" font-weight="400" textLength="211.7" lengthAdjust="spacingAndGlyphs" fill="#1a1a1a" stroke="#fff" stroke-width="0.7" xml:space="preserve">phylogeny in a </text>
<text x="1045.3" y="726.3" font-size="33.0" font-weight="400" textLength="265.3" lengthAdjust="spacingAndGlyphs" fill="#1a1a1a" stroke="#fff" stroke-width="0.7" xml:space="preserve">patient with gastric </text>
<text x="1310.6" y="726.3" font-size="33.0" font-weight="400" textLength="147.6" lengthAdjust="spacingAndGlyphs" fill="#1a1a1a" stroke="#fff" stroke-width="0.7" xml:space="preserve">carcinoma.</text>
<text x="1466.0" y="726.3" font-size="33.0" font-weight="700" textLength="16.0" lengthAdjust="spacingAndGlyphs" fill="#1a1a1a" xml:space="preserve">a</text>
<text x="1482.6" y="726.3" font-size="33.0" font-weight="400" textLength="7.8" lengthAdjust="spacingAndGlyphs" fill="#1a1a1a" stroke="#fff" stroke-width="0.7" xml:space="preserve">-</text>
<text x="1491.8" y="726.3" font-size="33.0" font-weight="700" textLength="21.2" lengthAdjust="spacingAndGlyphs" fill="#1a1a1a" xml:space="preserve">b</text>
<text x="1522.3" y="726.3" font-size="33.0" font-weight="400" textLength="221.2" lengthAdjust="spacingAndGlyphs" fill="#1a1a1a" stroke="#fff" stroke-width="0.7" xml:space="preserve">The biopsy sites </text>
<text x="1743.5" y="726.3" font-size="33.0" font-weight="400" textLength="169.2" lengthAdjust="spacingAndGlyphs" fill="#1a1a1a" stroke="#fff" stroke-width="0.7" xml:space="preserve">and regions </text>
<text x="1912.7" y="726.3" font-size="33.0" font-weight="400" textLength="130.7" lengthAdjust="spacingAndGlyphs" fill="#1a1a1a" stroke="#fff" stroke-width="0.7" xml:space="preserve">harvested</text>
<text x="15.2" y="768.9" font-size="33.0" font-weight="400" textLength="263.9" lengthAdjust="spacingAndGlyphs" fill="#1a1a1a" stroke="#fff" stroke-width="0.7" xml:space="preserve">clockwise from the </text>
<text x="279.1" y="768.9" font-size="33.0" font-weight="400" textLength="131.9" lengthAdjust="spacingAndGlyphs" fill="#1a1a1a" stroke="#fff" stroke-width="0.7" xml:space="preserve">surgically </text>
<text x="411.0" y="768.9" font-size="33.0" font-weight="400" textLength="217.9" lengthAdjust="spacingAndGlyphs" fill="#1a1a1a" stroke="#fff" stroke-width="0.7" xml:space="preserve">resected gastric </text>
<text x="628.9" y="768.9" font-size="33.0" font-weight="400" textLength="145.4" lengthAdjust="spacingAndGlyphs" fill="#1a1a1a" stroke="#fff" stroke-width="0.7" xml:space="preserve">carcinoma.</text>
<text x="783.8" y="768.9" font-size="33.0" font-weight="700" textLength="14.8" lengthAdjust="spacingAndGlyphs" fill="#1a1a1a" xml:space="preserve">c</text>
<text x="808.6" y="768.9" font-size="33.0" font-weight="400" textLength="358.3" lengthAdjust="spacingAndGlyphs" fill="#1a1a1a" stroke="#FFD100" stroke-width="0.7" xml:space="preserve">Phylogenetic relationships </text>
<text x="1166.9" y="768.9" font-size="33.0" font-weight="400" textLength="241.3" lengthAdjust="spacingAndGlyphs" fill="#1a1a1a" stroke="#FFD100" stroke-width="0.7" xml:space="preserve">among six tumor </text>
<text x="1408.2" y="768.9" font-size="33.0" font-weight="400" textLength="105.7" lengthAdjust="spacingAndGlyphs" fill="#1a1a1a" stroke="#FFD100" stroke-width="0.7" xml:space="preserve">regions.</text>
<text x="1523.0" y="768.9" font-size="33.0" font-weight="700" textLength="19.5" lengthAdjust="spacingAndGlyphs" fill="#1a1a1a" xml:space="preserve">d</text>
<text x="1552.7" y="768.9" font-size="33.0" font-weight="400" textLength="163.8" lengthAdjust="spacingAndGlyphs" fill="#1a1a1a" stroke="#fff" stroke-width="0.7" xml:space="preserve">Distribution </text>
<text x="1716.5" y="768.9" font-size="33.0" font-weight="400" textLength="182.8" lengthAdjust="spacingAndGlyphs" fill="#1a1a1a" stroke="#fff" stroke-width="0.7" xml:space="preserve">of 382 exonic</text>
<text x="15.5" y="811.8" font-size="33.0" font-weight="400" textLength="233.6" lengthAdjust="spacingAndGlyphs" fill="#1a1a1a" stroke="#fff" stroke-width="0.7" xml:space="preserve">nonsynonymous </text>
<text x="249.1" y="811.8" font-size="33.0" font-weight="400" textLength="151.4" lengthAdjust="spacingAndGlyphs" fill="#1a1a1a" stroke="#fff" stroke-width="0.7" xml:space="preserve">SNVs in six </text>
<text x="400.5" y="811.8" font-size="33.0" font-weight="400" textLength="204.0" lengthAdjust="spacingAndGlyphs" fill="#1a1a1a" stroke="#fff" stroke-width="0.7" xml:space="preserve">primary tumor </text>
<text x="604.5" y="811.8" font-size="33.0" font-weight="400" textLength="195.9" lengthAdjust="spacingAndGlyphs" fill="#1a1a1a" stroke="#fff" stroke-width="0.7" xml:space="preserve">regions, these </text>
<text x="800.4" y="811.8" font-size="33.0" font-weight="400" textLength="194.8" lengthAdjust="spacingAndGlyphs" fill="#1a1a1a" stroke="#fff" stroke-width="0.7" xml:space="preserve">mutations are </text>
<text x="995.2" y="811.8" font-size="33.0" font-weight="400" textLength="200.3" lengthAdjust="spacingAndGlyphs" fill="#1a1a1a" stroke="#fff" stroke-width="0.7" xml:space="preserve">mapped to 35 </text>
<text x="1195.5" y="811.8" font-size="33.0" font-weight="400" textLength="224.2" lengthAdjust="spacingAndGlyphs" fill="#1a1a1a" stroke="#fff" stroke-width="0.7" xml:space="preserve">trunk mutations </text>
<text x="1419.7" y="811.8" font-size="33.0" font-weight="400" textLength="247.7" lengthAdjust="spacingAndGlyphs" fill="#1a1a1a" stroke="#fff" stroke-width="0.7" xml:space="preserve">(54.97%, 210/382), </text>
<text x="1667.4" y="811.8" font-size="33.0" font-weight="400" textLength="146.2" lengthAdjust="spacingAndGlyphs" fill="#1a1a1a" stroke="#fff" stroke-width="0.7" xml:space="preserve">17 branch </text>
<text x="1813.6" y="811.8" font-size="33.0" font-weight="400" textLength="135.2" lengthAdjust="spacingAndGlyphs" fill="#1a1a1a" stroke="#fff" stroke-width="0.7" xml:space="preserve">mutations</text>
<text x="16.0" y="854.7" font-size="33.0" font-weight="400" textLength="231.5" lengthAdjust="spacingAndGlyphs" fill="#1a1a1a" stroke="#fff" stroke-width="0.7" xml:space="preserve">(16.84%, 64/382), </text>
<text x="247.5" y="854.7" font-size="33.0" font-weight="400" textLength="219.8" lengthAdjust="spacingAndGlyphs" fill="#1a1a1a" stroke="#fff" stroke-width="0.7" xml:space="preserve">and 108 private </text>
<text x="467.3" y="854.7" font-size="33.0" font-weight="400" textLength="145.2" lengthAdjust="spacingAndGlyphs" fill="#1a1a1a" stroke="#fff" stroke-width="0.7" xml:space="preserve">mutations </text>
<text x="612.5" y="854.7" font-size="33.0" font-weight="400" textLength="249.1" lengthAdjust="spacingAndGlyphs" fill="#1a1a1a" stroke="#fff" stroke-width="0.7" xml:space="preserve">(28.27%, 108/382). </text>
<text x="861.6" y="854.7" font-size="33.0" font-weight="400" textLength="197.7" lengthAdjust="spacingAndGlyphs" fill="#1a1a1a" stroke="#fff" stroke-width="0.7" xml:space="preserve">The heat map </text>
<text x="1059.3" y="854.7" font-size="33.0" font-weight="400" textLength="153.7" lengthAdjust="spacingAndGlyphs" fill="#1a1a1a" stroke="#fff" stroke-width="0.7" xml:space="preserve">reveals the </text>
<text x="1213.0" y="854.7" font-size="33.0" font-weight="400" textLength="138.1" lengthAdjust="spacingAndGlyphs" fill="#1a1a1a" stroke="#fff" stroke-width="0.7" xml:space="preserve">presence (</text>
<text x="1352.1" y="854.7" font-size="33.0" font-weight="400" font-style="italic" textLength="39.6" lengthAdjust="spacingAndGlyphs" fill="#1a1a1a" stroke="#fff" stroke-width="0.7" xml:space="preserve">red</text>
<text x="1392.2" y="854.7" font-size="33.0" font-weight="400" textLength="54.0" lengthAdjust="spacingAndGlyphs" fill="#1a1a1a" stroke="#fff" stroke-width="0.7" xml:space="preserve">) or </text>
<text x="1446.2" y="854.7" font-size="33.0" font-weight="400" textLength="128.1" lengthAdjust="spacingAndGlyphs" fill="#1a1a1a" stroke="#fff" stroke-width="0.7" xml:space="preserve">absence (</text>
<text x="1575.8" y="854.7" font-size="33.0" font-weight="400" font-style="italic" textLength="53.6" lengthAdjust="spacingAndGlyphs" fill="#1a1a1a" stroke="#fff" stroke-width="0.7" xml:space="preserve">blue</text>
<text x="1629.8" y="854.7" font-size="33.0" font-weight="400" textLength="77.7" lengthAdjust="spacingAndGlyphs" fill="#1a1a1a" stroke="#fff" stroke-width="0.7" xml:space="preserve">) of a </text>
<text x="1707.5" y="854.7" font-size="33.0" font-weight="400" textLength="165.1" lengthAdjust="spacingAndGlyphs" fill="#1a1a1a" stroke="#fff" stroke-width="0.7" xml:space="preserve">mutation in </text>
<text x="1872.6" y="854.7" font-size="33.0" font-weight="400" textLength="160.7" lengthAdjust="spacingAndGlyphs" fill="#1a1a1a" stroke="#fff" stroke-width="0.7" xml:space="preserve">each region</text>
<text x="15.0" y="898.3" font-size="33.0" font-weight="400" textLength="143.0" lengthAdjust="spacingAndGlyphs" fill="#1a1a1a" stroke="#fff" stroke-width="0.7" xml:space="preserve">of sample. </text>
<text x="158.0" y="898.3" font-size="33.0" font-weight="400" textLength="203.7" lengthAdjust="spacingAndGlyphs" fill="#1a1a1a" stroke="#fff" stroke-width="0.7" xml:space="preserve">The color bars </text>
<text x="361.7" y="898.3" font-size="33.0" font-weight="400" textLength="214.1" lengthAdjust="spacingAndGlyphs" fill="#1a1a1a" stroke="#fff" stroke-width="0.7" xml:space="preserve">above the heat </text>
<text x="575.8" y="898.3" font-size="33.0" font-weight="400" textLength="159.2" lengthAdjust="spacingAndGlyphs" fill="#1a1a1a" stroke="#fff" stroke-width="0.7" xml:space="preserve">map give a </text>
<text x="735.0" y="898.3" font-size="33.0" font-weight="400" textLength="165.1" lengthAdjust="spacingAndGlyphs" fill="#1a1a1a" stroke="#fff" stroke-width="0.7" xml:space="preserve">value (Var1) </text>
<text x="900.1" y="898.3" font-size="33.0" font-weight="400" textLength="188.3" lengthAdjust="spacingAndGlyphs" fill="#1a1a1a" stroke="#fff" stroke-width="0.7" xml:space="preserve">that indicates </text>
<text x="1088.4" y="898.3" font-size="33.0" font-weight="400" textLength="208.7" lengthAdjust="spacingAndGlyphs" fill="#1a1a1a" stroke="#fff" stroke-width="0.7" xml:space="preserve">the number of </text>
<text x="1297.1" y="898.3" font-size="33.0" font-weight="400" textLength="247.7" lengthAdjust="spacingAndGlyphs" fill="#1a1a1a" stroke="#fff" stroke-width="0.7" xml:space="preserve">samples involving </text>
<text x="1544.8" y="898.3" font-size="33.0" font-weight="400" textLength="136.7" lengthAdjust="spacingAndGlyphs" fill="#1a1a1a" stroke="#fff" stroke-width="0.7" xml:space="preserve">the same </text>
<text x="1681.5" y="898.3" font-size="33.0" font-weight="400" textLength="175.1" lengthAdjust="spacingAndGlyphs" fill="#1a1a1a" stroke="#fff" stroke-width="0.7" xml:space="preserve">mutation site</text>
</svg></body></html>
